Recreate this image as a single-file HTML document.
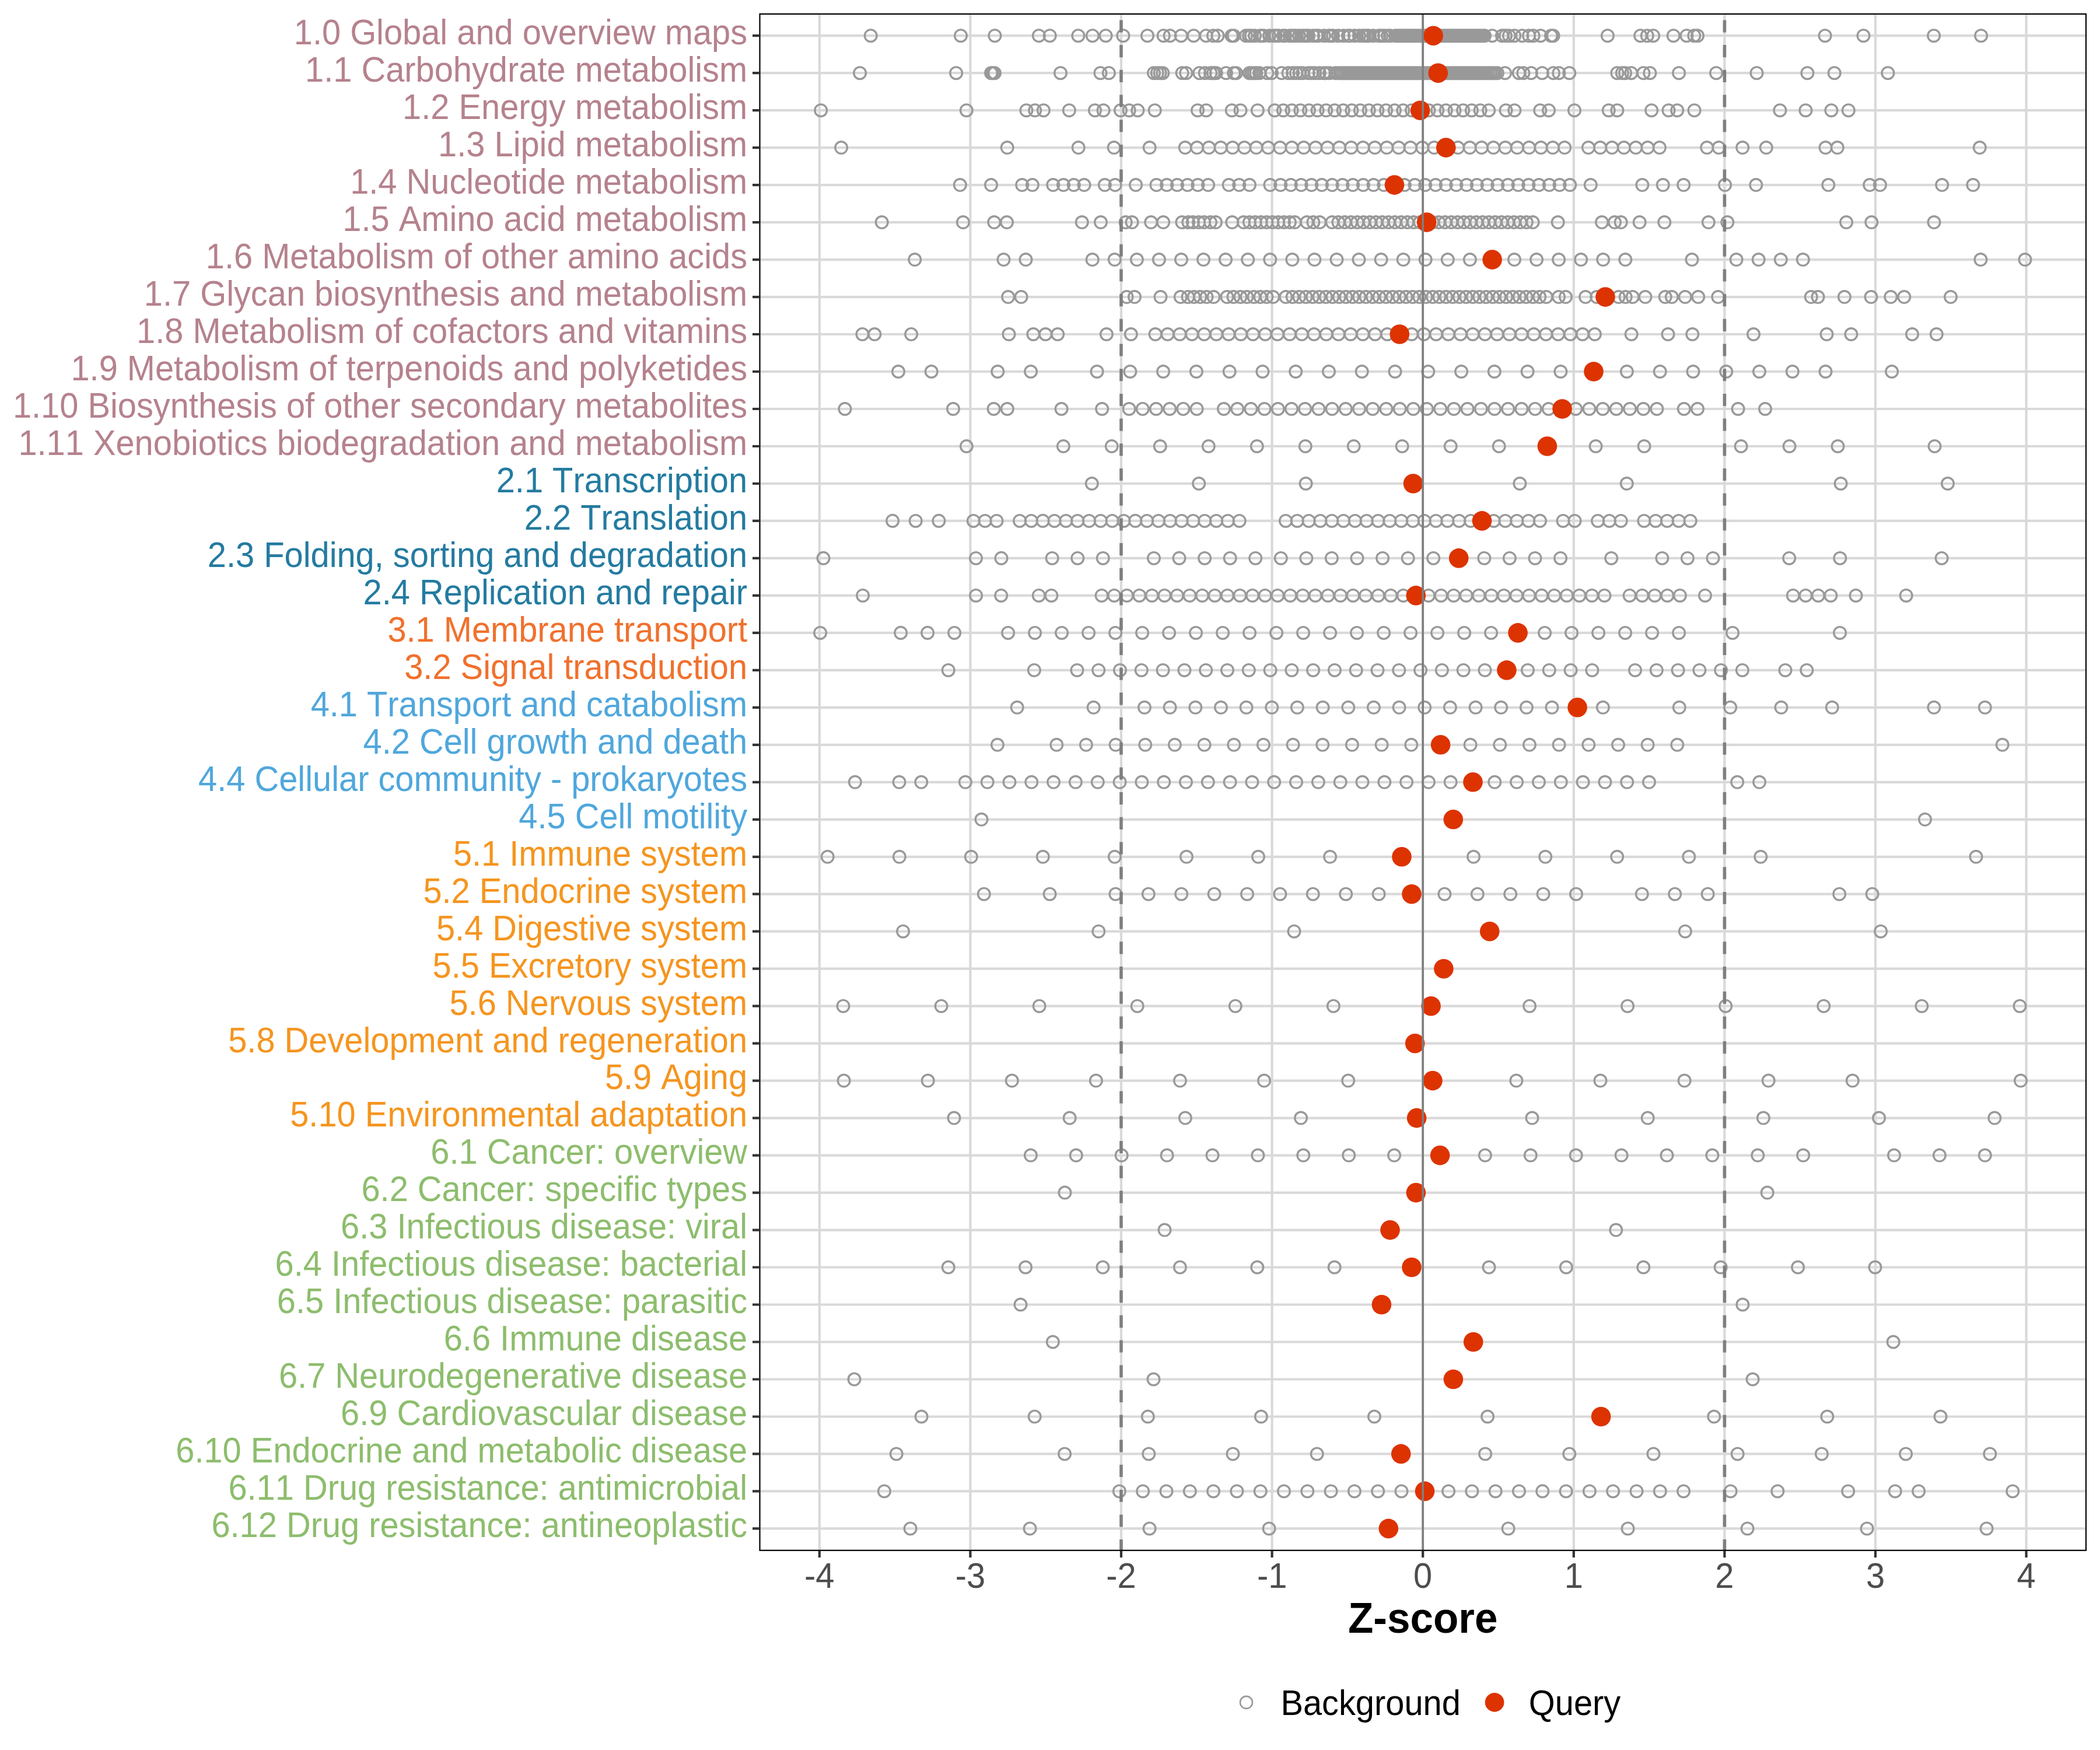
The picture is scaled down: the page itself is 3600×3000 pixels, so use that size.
<!DOCTYPE html><html><head><meta charset="utf-8"><style>html,body{margin:0;padding:0;background:#fff;overflow:hidden;width:3600px;height:3000px}svg{display:block}text{font-family:"Liberation Sans",sans-serif;font-kerning:none}</style></head><body>
<svg width="3600" height="3000" viewBox="0 0 3600 3000">
<rect width="3600" height="3000" fill="#fff"/>
<path d="M1302.5 61.2H3576M1302.5 125.2H3576M1302.5 189.2H3576M1302.5 253.1H3576M1302.5 317.1H3576M1302.5 381.1H3576M1302.5 445.1H3576M1302.5 509.1H3576M1302.5 573H3576M1302.5 637H3576M1302.5 701H3576M1302.5 765H3576M1302.5 829H3576M1302.5 892.9H3576M1302.5 956.9H3576M1302.5 1020.9H3576M1302.5 1084.9H3576M1302.5 1148.9H3576M1302.5 1212.8H3576M1302.5 1276.8H3576M1302.5 1340.8H3576M1302.5 1404.8H3576M1302.5 1468.8H3576M1302.5 1532.7H3576M1302.5 1596.7H3576M1302.5 1660.7H3576M1302.5 1724.7H3576M1302.5 1788.7H3576M1302.5 1852.6H3576M1302.5 1916.6H3576M1302.5 1980.6H3576M1302.5 2044.6H3576M1302.5 2108.6H3576M1302.5 2172.5H3576M1302.5 2236.5H3576M1302.5 2300.5H3576M1302.5 2364.5H3576M1302.5 2428.5H3576M1302.5 2492.4H3576M1302.5 2556.4H3576M1302.5 2620.4H3576M1404.8 24V2657.8M1663.4 24V2657.8M1922 24V2657.8M2180.6 24V2657.8M2439.2 24V2657.8M2697.8 24V2657.8M2956.4 24V2657.8M3215 24V2657.8M3473.6 24V2657.8" stroke="#d9d9d9" stroke-width="4.2" fill="none"/>
<path d="M1482.4 61.2a10.3 10.3 0 1 0 20.6 0a10.3 10.3 0 1 0 -20.6 0M1636.7 61.2a10.3 10.3 0 1 0 20.6 0a10.3 10.3 0 1 0 -20.6 0M1695.1 61.2a10.3 10.3 0 1 0 20.6 0a10.3 10.3 0 1 0 -20.6 0M1770.6 61.2a10.3 10.3 0 1 0 20.6 0a10.3 10.3 0 1 0 -20.6 0M1789.4 61.2a10.3 10.3 0 1 0 20.6 0a10.3 10.3 0 1 0 -20.6 0M1838.1 61.2a10.3 10.3 0 1 0 20.6 0a10.3 10.3 0 1 0 -20.6 0M1862.6 61.2a10.3 10.3 0 1 0 20.6 0a10.3 10.3 0 1 0 -20.6 0M1885.3 61.2a10.3 10.3 0 1 0 20.6 0a10.3 10.3 0 1 0 -20.6 0M1915.1 61.2a10.3 10.3 0 1 0 20.6 0a10.3 10.3 0 1 0 -20.6 0M1956.7 61.2a10.3 10.3 0 1 0 20.6 0a10.3 10.3 0 1 0 -20.6 0M1984.4 61.2a10.3 10.3 0 1 0 20.6 0a10.3 10.3 0 1 0 -20.6 0M1995.4 61.2a10.3 10.3 0 1 0 20.6 0a10.3 10.3 0 1 0 -20.6 0M2014.5 61.2a10.3 10.3 0 1 0 20.6 0a10.3 10.3 0 1 0 -20.6 0M2036 61.2a10.3 10.3 0 1 0 20.6 0a10.3 10.3 0 1 0 -20.6 0M2057.3 61.2a10.3 10.3 0 1 0 20.6 0a10.3 10.3 0 1 0 -20.6 0M2069.7 61.2a10.3 10.3 0 1 0 20.6 0a10.3 10.3 0 1 0 -20.6 0M2077.3 61.2a10.3 10.3 0 1 0 20.6 0a10.3 10.3 0 1 0 -20.6 0M2101.2 61.2a10.3 10.3 0 1 0 20.6 0a10.3 10.3 0 1 0 -20.6 0M2104.7 61.2a10.3 10.3 0 1 0 20.6 0a10.3 10.3 0 1 0 -20.6 0M2547.8 61.2a10.3 10.3 0 1 0 20.6 0a10.3 10.3 0 1 0 -20.6 0M2564.7 61.2a10.3 10.3 0 1 0 20.6 0a10.3 10.3 0 1 0 -20.6 0M2570.7 61.2a10.3 10.3 0 1 0 20.6 0a10.3 10.3 0 1 0 -20.6 0M2576.7 61.2a10.3 10.3 0 1 0 20.6 0a10.3 10.3 0 1 0 -20.6 0M2585.9 61.2a10.3 10.3 0 1 0 20.6 0a10.3 10.3 0 1 0 -20.6 0M2599.2 61.2a10.3 10.3 0 1 0 20.6 0a10.3 10.3 0 1 0 -20.6 0M2610.7 61.2a10.3 10.3 0 1 0 20.6 0a10.3 10.3 0 1 0 -20.6 0M2618.3 61.2a10.3 10.3 0 1 0 20.6 0a10.3 10.3 0 1 0 -20.6 0M2630.7 61.2a10.3 10.3 0 1 0 20.6 0a10.3 10.3 0 1 0 -20.6 0M2648.7 61.2a10.3 10.3 0 1 0 20.6 0a10.3 10.3 0 1 0 -20.6 0M2652.3 61.2a10.3 10.3 0 1 0 20.6 0a10.3 10.3 0 1 0 -20.6 0M2745.6 61.2a10.3 10.3 0 1 0 20.6 0a10.3 10.3 0 1 0 -20.6 0M2801.9 61.2a10.3 10.3 0 1 0 20.6 0a10.3 10.3 0 1 0 -20.6 0M2813.5 61.2a10.3 10.3 0 1 0 20.6 0a10.3 10.3 0 1 0 -20.6 0M2823.8 61.2a10.3 10.3 0 1 0 20.6 0a10.3 10.3 0 1 0 -20.6 0M2858.5 61.2a10.3 10.3 0 1 0 20.6 0a10.3 10.3 0 1 0 -20.6 0M2881.1 61.2a10.3 10.3 0 1 0 20.6 0a10.3 10.3 0 1 0 -20.6 0M2894 61.2a10.3 10.3 0 1 0 20.6 0a10.3 10.3 0 1 0 -20.6 0M2899.7 61.2a10.3 10.3 0 1 0 20.6 0a10.3 10.3 0 1 0 -20.6 0M3118.3 61.2a10.3 10.3 0 1 0 20.6 0a10.3 10.3 0 1 0 -20.6 0M3184.2 61.2a10.3 10.3 0 1 0 20.6 0a10.3 10.3 0 1 0 -20.6 0M3304.8 61.2a10.3 10.3 0 1 0 20.6 0a10.3 10.3 0 1 0 -20.6 0M3385.8 61.2a10.3 10.3 0 1 0 20.6 0a10.3 10.3 0 1 0 -20.6 0M2125.7 61.2a10.3 10.3 0 1 0 20.6 0a10.3 10.3 0 1 0 -20.6 0M2130.7 61.2a10.3 10.3 0 1 0 20.6 0a10.3 10.3 0 1 0 -20.6 0M2134.7 61.2a10.3 10.3 0 1 0 20.6 0a10.3 10.3 0 1 0 -20.6 0M2140.7 61.2a10.3 10.3 0 1 0 20.6 0a10.3 10.3 0 1 0 -20.6 0M2149.7 61.2a10.3 10.3 0 1 0 20.6 0a10.3 10.3 0 1 0 -20.6 0M2152.7 61.2a10.3 10.3 0 1 0 20.6 0a10.3 10.3 0 1 0 -20.6 0M2155.7 61.2a10.3 10.3 0 1 0 20.6 0a10.3 10.3 0 1 0 -20.6 0M2165.7 61.2a10.3 10.3 0 1 0 20.6 0a10.3 10.3 0 1 0 -20.6 0M2173.7 61.2a10.3 10.3 0 1 0 20.6 0a10.3 10.3 0 1 0 -20.6 0M2176.7 61.2a10.3 10.3 0 1 0 20.6 0a10.3 10.3 0 1 0 -20.6 0M2181.7 61.2a10.3 10.3 0 1 0 20.6 0a10.3 10.3 0 1 0 -20.6 0M2189.7 61.2a10.3 10.3 0 1 0 20.6 0a10.3 10.3 0 1 0 -20.6 0M2192.7 61.2a10.3 10.3 0 1 0 20.6 0a10.3 10.3 0 1 0 -20.6 0M2200.7 61.2a10.3 10.3 0 1 0 20.6 0a10.3 10.3 0 1 0 -20.6 0M2204.7 61.2a10.3 10.3 0 1 0 20.6 0a10.3 10.3 0 1 0 -20.6 0M2207.7 61.2a10.3 10.3 0 1 0 20.6 0a10.3 10.3 0 1 0 -20.6 0M2210.7 61.2a10.3 10.3 0 1 0 20.6 0a10.3 10.3 0 1 0 -20.6 0M2216.7 61.2a10.3 10.3 0 1 0 20.6 0a10.3 10.3 0 1 0 -20.6 0M2222.7 61.2a10.3 10.3 0 1 0 20.6 0a10.3 10.3 0 1 0 -20.6 0M2225.7 61.2a10.3 10.3 0 1 0 20.6 0a10.3 10.3 0 1 0 -20.6 0M2229.7 61.2a10.3 10.3 0 1 0 20.6 0a10.3 10.3 0 1 0 -20.6 0M2232.7 61.2a10.3 10.3 0 1 0 20.6 0a10.3 10.3 0 1 0 -20.6 0M2240.7 61.2a10.3 10.3 0 1 0 20.6 0a10.3 10.3 0 1 0 -20.6 0M2246.7 61.2a10.3 10.3 0 1 0 20.6 0a10.3 10.3 0 1 0 -20.6 0M2249.7 61.2a10.3 10.3 0 1 0 20.6 0a10.3 10.3 0 1 0 -20.6 0M2259.7 61.2a10.3 10.3 0 1 0 20.6 0a10.3 10.3 0 1 0 -20.6 0M2267.7 61.2a10.3 10.3 0 1 0 20.6 0a10.3 10.3 0 1 0 -20.6 0M2270.7 61.2a10.3 10.3 0 1 0 20.6 0a10.3 10.3 0 1 0 -20.6 0M2274.7 61.2a10.3 10.3 0 1 0 20.6 0a10.3 10.3 0 1 0 -20.6 0M2283.7 61.2a10.3 10.3 0 1 0 20.6 0a10.3 10.3 0 1 0 -20.6 0M2292.7 61.2a10.3 10.3 0 1 0 20.6 0a10.3 10.3 0 1 0 -20.6 0M2300.7 61.2a10.3 10.3 0 1 0 20.6 0a10.3 10.3 0 1 0 -20.6 0M2303.7 61.2a10.3 10.3 0 1 0 20.6 0a10.3 10.3 0 1 0 -20.6 0M2311.7 61.2a10.3 10.3 0 1 0 20.6 0a10.3 10.3 0 1 0 -20.6 0M2319.7 61.2a10.3 10.3 0 1 0 20.6 0a10.3 10.3 0 1 0 -20.6 0M2325.7 61.2a10.3 10.3 0 1 0 20.6 0a10.3 10.3 0 1 0 -20.6 0M2328.7 61.2a10.3 10.3 0 1 0 20.6 0a10.3 10.3 0 1 0 -20.6 0M2332.7 61.2a10.3 10.3 0 1 0 20.6 0a10.3 10.3 0 1 0 -20.6 0M2335.7 61.2a10.3 10.3 0 1 0 20.6 0a10.3 10.3 0 1 0 -20.6 0M2343.7 61.2a10.3 10.3 0 1 0 20.6 0a10.3 10.3 0 1 0 -20.6 0M2353.7 61.2a10.3 10.3 0 1 0 20.6 0a10.3 10.3 0 1 0 -20.6 0M2357.7 61.2a10.3 10.3 0 1 0 20.6 0a10.3 10.3 0 1 0 -20.6 0M2362.7 61.2a10.3 10.3 0 1 0 20.6 0a10.3 10.3 0 1 0 -20.6 0M2368.7 61.2a10.3 10.3 0 1 0 20.6 0a10.3 10.3 0 1 0 -20.6 0M2372.7 61.2a10.3 10.3 0 1 0 20.6 0a10.3 10.3 0 1 0 -20.6 0M2381.7 61.2a10.3 10.3 0 1 0 20.6 0a10.3 10.3 0 1 0 -20.6 0M2385.1 61.2a10.3 10.3 0 1 0 20.6 0a10.3 10.3 0 1 0 -20.6 0M2388.5 61.2a10.3 10.3 0 1 0 20.6 0a10.3 10.3 0 1 0 -20.6 0M2391.9 61.2a10.3 10.3 0 1 0 20.6 0a10.3 10.3 0 1 0 -20.6 0M2395.3 61.2a10.3 10.3 0 1 0 20.6 0a10.3 10.3 0 1 0 -20.6 0M2398.7 61.2a10.3 10.3 0 1 0 20.6 0a10.3 10.3 0 1 0 -20.6 0M2402.1 61.2a10.3 10.3 0 1 0 20.6 0a10.3 10.3 0 1 0 -20.6 0M2405.5 61.2a10.3 10.3 0 1 0 20.6 0a10.3 10.3 0 1 0 -20.6 0M2408.9 61.2a10.3 10.3 0 1 0 20.6 0a10.3 10.3 0 1 0 -20.6 0M2412.3 61.2a10.3 10.3 0 1 0 20.6 0a10.3 10.3 0 1 0 -20.6 0M2415.7 61.2a10.3 10.3 0 1 0 20.6 0a10.3 10.3 0 1 0 -20.6 0M2419.1 61.2a10.3 10.3 0 1 0 20.6 0a10.3 10.3 0 1 0 -20.6 0M2422.5 61.2a10.3 10.3 0 1 0 20.6 0a10.3 10.3 0 1 0 -20.6 0M2425.9 61.2a10.3 10.3 0 1 0 20.6 0a10.3 10.3 0 1 0 -20.6 0M2429.3 61.2a10.3 10.3 0 1 0 20.6 0a10.3 10.3 0 1 0 -20.6 0M2432.7 61.2a10.3 10.3 0 1 0 20.6 0a10.3 10.3 0 1 0 -20.6 0M2436.1 61.2a10.3 10.3 0 1 0 20.6 0a10.3 10.3 0 1 0 -20.6 0M2439.5 61.2a10.3 10.3 0 1 0 20.6 0a10.3 10.3 0 1 0 -20.6 0M2442.9 61.2a10.3 10.3 0 1 0 20.6 0a10.3 10.3 0 1 0 -20.6 0M2446.3 61.2a10.3 10.3 0 1 0 20.6 0a10.3 10.3 0 1 0 -20.6 0M2449.7 61.2a10.3 10.3 0 1 0 20.6 0a10.3 10.3 0 1 0 -20.6 0M2453.1 61.2a10.3 10.3 0 1 0 20.6 0a10.3 10.3 0 1 0 -20.6 0M2456.5 61.2a10.3 10.3 0 1 0 20.6 0a10.3 10.3 0 1 0 -20.6 0M2459.9 61.2a10.3 10.3 0 1 0 20.6 0a10.3 10.3 0 1 0 -20.6 0M2463.3 61.2a10.3 10.3 0 1 0 20.6 0a10.3 10.3 0 1 0 -20.6 0M2466.7 61.2a10.3 10.3 0 1 0 20.6 0a10.3 10.3 0 1 0 -20.6 0M2470.1 61.2a10.3 10.3 0 1 0 20.6 0a10.3 10.3 0 1 0 -20.6 0M2473.5 61.2a10.3 10.3 0 1 0 20.6 0a10.3 10.3 0 1 0 -20.6 0M2476.9 61.2a10.3 10.3 0 1 0 20.6 0a10.3 10.3 0 1 0 -20.6 0M2480.3 61.2a10.3 10.3 0 1 0 20.6 0a10.3 10.3 0 1 0 -20.6 0M2483.7 61.2a10.3 10.3 0 1 0 20.6 0a10.3 10.3 0 1 0 -20.6 0M2487.1 61.2a10.3 10.3 0 1 0 20.6 0a10.3 10.3 0 1 0 -20.6 0M2490.5 61.2a10.3 10.3 0 1 0 20.6 0a10.3 10.3 0 1 0 -20.6 0M2493.9 61.2a10.3 10.3 0 1 0 20.6 0a10.3 10.3 0 1 0 -20.6 0M2497.3 61.2a10.3 10.3 0 1 0 20.6 0a10.3 10.3 0 1 0 -20.6 0M2500.7 61.2a10.3 10.3 0 1 0 20.6 0a10.3 10.3 0 1 0 -20.6 0M2504.1 61.2a10.3 10.3 0 1 0 20.6 0a10.3 10.3 0 1 0 -20.6 0M2507.5 61.2a10.3 10.3 0 1 0 20.6 0a10.3 10.3 0 1 0 -20.6 0M2510.9 61.2a10.3 10.3 0 1 0 20.6 0a10.3 10.3 0 1 0 -20.6 0M2514.3 61.2a10.3 10.3 0 1 0 20.6 0a10.3 10.3 0 1 0 -20.6 0M2517.7 61.2a10.3 10.3 0 1 0 20.6 0a10.3 10.3 0 1 0 -20.6 0M2521.1 61.2a10.3 10.3 0 1 0 20.6 0a10.3 10.3 0 1 0 -20.6 0M2524.5 61.2a10.3 10.3 0 1 0 20.6 0a10.3 10.3 0 1 0 -20.6 0M2527.9 61.2a10.3 10.3 0 1 0 20.6 0a10.3 10.3 0 1 0 -20.6 0M2531.3 61.2a10.3 10.3 0 1 0 20.6 0a10.3 10.3 0 1 0 -20.6 0M2534.7 61.2a10.3 10.3 0 1 0 20.6 0a10.3 10.3 0 1 0 -20.6 0M1463.8 125.2a10.3 10.3 0 1 0 20.6 0a10.3 10.3 0 1 0 -20.6 0M1628.8 125.2a10.3 10.3 0 1 0 20.6 0a10.3 10.3 0 1 0 -20.6 0M1688.8 125.2a10.3 10.3 0 1 0 20.6 0a10.3 10.3 0 1 0 -20.6 0M1692 125.2a10.3 10.3 0 1 0 20.6 0a10.3 10.3 0 1 0 -20.6 0M1694.7 125.2a10.3 10.3 0 1 0 20.6 0a10.3 10.3 0 1 0 -20.6 0M1807.7 125.2a10.3 10.3 0 1 0 20.6 0a10.3 10.3 0 1 0 -20.6 0M1876.2 125.2a10.3 10.3 0 1 0 20.6 0a10.3 10.3 0 1 0 -20.6 0M1890.6 125.2a10.3 10.3 0 1 0 20.6 0a10.3 10.3 0 1 0 -20.6 0M1967.8 125.2a10.3 10.3 0 1 0 20.6 0a10.3 10.3 0 1 0 -20.6 0M1973.5 125.2a10.3 10.3 0 1 0 20.6 0a10.3 10.3 0 1 0 -20.6 0M1978.3 125.2a10.3 10.3 0 1 0 20.6 0a10.3 10.3 0 1 0 -20.6 0M1983 125.2a10.3 10.3 0 1 0 20.6 0a10.3 10.3 0 1 0 -20.6 0M2016.4 125.2a10.3 10.3 0 1 0 20.6 0a10.3 10.3 0 1 0 -20.6 0M2023 125.2a10.3 10.3 0 1 0 20.6 0a10.3 10.3 0 1 0 -20.6 0M2045.9 125.2a10.3 10.3 0 1 0 20.6 0a10.3 10.3 0 1 0 -20.6 0M2055.4 125.2a10.3 10.3 0 1 0 20.6 0a10.3 10.3 0 1 0 -20.6 0M2064.9 125.2a10.3 10.3 0 1 0 20.6 0a10.3 10.3 0 1 0 -20.6 0M2069.7 125.2a10.3 10.3 0 1 0 20.6 0a10.3 10.3 0 1 0 -20.6 0M2074.5 125.2a10.3 10.3 0 1 0 20.6 0a10.3 10.3 0 1 0 -20.6 0M2091.6 125.2a10.3 10.3 0 1 0 20.6 0a10.3 10.3 0 1 0 -20.6 0M2104.9 125.2a10.3 10.3 0 1 0 20.6 0a10.3 10.3 0 1 0 -20.6 0M2108.7 125.2a10.3 10.3 0 1 0 20.6 0a10.3 10.3 0 1 0 -20.6 0M2131.6 125.2a10.3 10.3 0 1 0 20.6 0a10.3 10.3 0 1 0 -20.6 0M2135.4 125.2a10.3 10.3 0 1 0 20.6 0a10.3 10.3 0 1 0 -20.6 0M2139.2 125.2a10.3 10.3 0 1 0 20.6 0a10.3 10.3 0 1 0 -20.6 0M2143 125.2a10.3 10.3 0 1 0 20.6 0a10.3 10.3 0 1 0 -20.6 0M2148.7 125.2a10.3 10.3 0 1 0 20.6 0a10.3 10.3 0 1 0 -20.6 0M2162.1 125.2a10.3 10.3 0 1 0 20.6 0a10.3 10.3 0 1 0 -20.6 0M2169.7 125.2a10.3 10.3 0 1 0 20.6 0a10.3 10.3 0 1 0 -20.6 0M2186.8 125.2a10.3 10.3 0 1 0 20.6 0a10.3 10.3 0 1 0 -20.6 0M2198.3 125.2a10.3 10.3 0 1 0 20.6 0a10.3 10.3 0 1 0 -20.6 0M2205.9 125.2a10.3 10.3 0 1 0 20.6 0a10.3 10.3 0 1 0 -20.6 0M2211.6 125.2a10.3 10.3 0 1 0 20.6 0a10.3 10.3 0 1 0 -20.6 0M2217.3 125.2a10.3 10.3 0 1 0 20.6 0a10.3 10.3 0 1 0 -20.6 0M2223 125.2a10.3 10.3 0 1 0 20.6 0a10.3 10.3 0 1 0 -20.6 0M2232.6 125.2a10.3 10.3 0 1 0 20.6 0a10.3 10.3 0 1 0 -20.6 0M2238.3 125.2a10.3 10.3 0 1 0 20.6 0a10.3 10.3 0 1 0 -20.6 0M2244 125.2a10.3 10.3 0 1 0 20.6 0a10.3 10.3 0 1 0 -20.6 0M2251.6 125.2a10.3 10.3 0 1 0 20.6 0a10.3 10.3 0 1 0 -20.6 0M2259.2 125.2a10.3 10.3 0 1 0 20.6 0a10.3 10.3 0 1 0 -20.6 0M2263 125.2a10.3 10.3 0 1 0 20.6 0a10.3 10.3 0 1 0 -20.6 0M2268.7 125.2a10.3 10.3 0 1 0 20.6 0a10.3 10.3 0 1 0 -20.6 0M2569.7 125.2a10.3 10.3 0 1 0 20.6 0a10.3 10.3 0 1 0 -20.6 0M2593.5 125.2a10.3 10.3 0 1 0 20.6 0a10.3 10.3 0 1 0 -20.6 0M2601.1 125.2a10.3 10.3 0 1 0 20.6 0a10.3 10.3 0 1 0 -20.6 0M2614.5 125.2a10.3 10.3 0 1 0 20.6 0a10.3 10.3 0 1 0 -20.6 0M2633.5 125.2a10.3 10.3 0 1 0 20.6 0a10.3 10.3 0 1 0 -20.6 0M2652.6 125.2a10.3 10.3 0 1 0 20.6 0a10.3 10.3 0 1 0 -20.6 0M2662.1 125.2a10.3 10.3 0 1 0 20.6 0a10.3 10.3 0 1 0 -20.6 0M2680 125.2a10.3 10.3 0 1 0 20.6 0a10.3 10.3 0 1 0 -20.6 0M2762.1 125.2a10.3 10.3 0 1 0 20.6 0a10.3 10.3 0 1 0 -20.6 0M2770.6 125.2a10.3 10.3 0 1 0 20.6 0a10.3 10.3 0 1 0 -20.6 0M2775.7 125.2a10.3 10.3 0 1 0 20.6 0a10.3 10.3 0 1 0 -20.6 0M2786 125.2a10.3 10.3 0 1 0 20.6 0a10.3 10.3 0 1 0 -20.6 0M2807.1 125.2a10.3 10.3 0 1 0 20.6 0a10.3 10.3 0 1 0 -20.6 0M2818.1 125.2a10.3 10.3 0 1 0 20.6 0a10.3 10.3 0 1 0 -20.6 0M2867.8 125.2a10.3 10.3 0 1 0 20.6 0a10.3 10.3 0 1 0 -20.6 0M2931.8 125.2a10.3 10.3 0 1 0 20.6 0a10.3 10.3 0 1 0 -20.6 0M3001.2 125.2a10.3 10.3 0 1 0 20.6 0a10.3 10.3 0 1 0 -20.6 0M3088.1 125.2a10.3 10.3 0 1 0 20.6 0a10.3 10.3 0 1 0 -20.6 0M3134.4 125.2a10.3 10.3 0 1 0 20.6 0a10.3 10.3 0 1 0 -20.6 0M3226.1 125.2a10.3 10.3 0 1 0 20.6 0a10.3 10.3 0 1 0 -20.6 0M2279.2 125.2a10.3 10.3 0 1 0 20.6 0a10.3 10.3 0 1 0 -20.6 0M2283 125.2a10.3 10.3 0 1 0 20.6 0a10.3 10.3 0 1 0 -20.6 0M2286.8 125.2a10.3 10.3 0 1 0 20.6 0a10.3 10.3 0 1 0 -20.6 0M2290.6 125.2a10.3 10.3 0 1 0 20.6 0a10.3 10.3 0 1 0 -20.6 0M2294.4 125.2a10.3 10.3 0 1 0 20.6 0a10.3 10.3 0 1 0 -20.6 0M2298.2 125.2a10.3 10.3 0 1 0 20.6 0a10.3 10.3 0 1 0 -20.6 0M2302 125.2a10.3 10.3 0 1 0 20.6 0a10.3 10.3 0 1 0 -20.6 0M2305.8 125.2a10.3 10.3 0 1 0 20.6 0a10.3 10.3 0 1 0 -20.6 0M2309.6 125.2a10.3 10.3 0 1 0 20.6 0a10.3 10.3 0 1 0 -20.6 0M2313.4 125.2a10.3 10.3 0 1 0 20.6 0a10.3 10.3 0 1 0 -20.6 0M2317.2 125.2a10.3 10.3 0 1 0 20.6 0a10.3 10.3 0 1 0 -20.6 0M2321 125.2a10.3 10.3 0 1 0 20.6 0a10.3 10.3 0 1 0 -20.6 0M2324.8 125.2a10.3 10.3 0 1 0 20.6 0a10.3 10.3 0 1 0 -20.6 0M2328.6 125.2a10.3 10.3 0 1 0 20.6 0a10.3 10.3 0 1 0 -20.6 0M2332.4 125.2a10.3 10.3 0 1 0 20.6 0a10.3 10.3 0 1 0 -20.6 0M2336.2 125.2a10.3 10.3 0 1 0 20.6 0a10.3 10.3 0 1 0 -20.6 0M2340 125.2a10.3 10.3 0 1 0 20.6 0a10.3 10.3 0 1 0 -20.6 0M2343.8 125.2a10.3 10.3 0 1 0 20.6 0a10.3 10.3 0 1 0 -20.6 0M2347.6 125.2a10.3 10.3 0 1 0 20.6 0a10.3 10.3 0 1 0 -20.6 0M2351.4 125.2a10.3 10.3 0 1 0 20.6 0a10.3 10.3 0 1 0 -20.6 0M2355.2 125.2a10.3 10.3 0 1 0 20.6 0a10.3 10.3 0 1 0 -20.6 0M2359 125.2a10.3 10.3 0 1 0 20.6 0a10.3 10.3 0 1 0 -20.6 0M2362.8 125.2a10.3 10.3 0 1 0 20.6 0a10.3 10.3 0 1 0 -20.6 0M2366.6 125.2a10.3 10.3 0 1 0 20.6 0a10.3 10.3 0 1 0 -20.6 0M2370.4 125.2a10.3 10.3 0 1 0 20.6 0a10.3 10.3 0 1 0 -20.6 0M2374.2 125.2a10.3 10.3 0 1 0 20.6 0a10.3 10.3 0 1 0 -20.6 0M2378 125.2a10.3 10.3 0 1 0 20.6 0a10.3 10.3 0 1 0 -20.6 0M2381.8 125.2a10.3 10.3 0 1 0 20.6 0a10.3 10.3 0 1 0 -20.6 0M2385.6 125.2a10.3 10.3 0 1 0 20.6 0a10.3 10.3 0 1 0 -20.6 0M2389.4 125.2a10.3 10.3 0 1 0 20.6 0a10.3 10.3 0 1 0 -20.6 0M2393.2 125.2a10.3 10.3 0 1 0 20.6 0a10.3 10.3 0 1 0 -20.6 0M2397 125.2a10.3 10.3 0 1 0 20.6 0a10.3 10.3 0 1 0 -20.6 0M2400.8 125.2a10.3 10.3 0 1 0 20.6 0a10.3 10.3 0 1 0 -20.6 0M2404.6 125.2a10.3 10.3 0 1 0 20.6 0a10.3 10.3 0 1 0 -20.6 0M2408.4 125.2a10.3 10.3 0 1 0 20.6 0a10.3 10.3 0 1 0 -20.6 0M2412.2 125.2a10.3 10.3 0 1 0 20.6 0a10.3 10.3 0 1 0 -20.6 0M2416 125.2a10.3 10.3 0 1 0 20.6 0a10.3 10.3 0 1 0 -20.6 0M2419.8 125.2a10.3 10.3 0 1 0 20.6 0a10.3 10.3 0 1 0 -20.6 0M2423.6 125.2a10.3 10.3 0 1 0 20.6 0a10.3 10.3 0 1 0 -20.6 0M2427.4 125.2a10.3 10.3 0 1 0 20.6 0a10.3 10.3 0 1 0 -20.6 0M2431.2 125.2a10.3 10.3 0 1 0 20.6 0a10.3 10.3 0 1 0 -20.6 0M2435 125.2a10.3 10.3 0 1 0 20.6 0a10.3 10.3 0 1 0 -20.6 0M2438.8 125.2a10.3 10.3 0 1 0 20.6 0a10.3 10.3 0 1 0 -20.6 0M2442.6 125.2a10.3 10.3 0 1 0 20.6 0a10.3 10.3 0 1 0 -20.6 0M2446.4 125.2a10.3 10.3 0 1 0 20.6 0a10.3 10.3 0 1 0 -20.6 0M2450.2 125.2a10.3 10.3 0 1 0 20.6 0a10.3 10.3 0 1 0 -20.6 0M2454 125.2a10.3 10.3 0 1 0 20.6 0a10.3 10.3 0 1 0 -20.6 0M2457.8 125.2a10.3 10.3 0 1 0 20.6 0a10.3 10.3 0 1 0 -20.6 0M2461.6 125.2a10.3 10.3 0 1 0 20.6 0a10.3 10.3 0 1 0 -20.6 0M2465.4 125.2a10.3 10.3 0 1 0 20.6 0a10.3 10.3 0 1 0 -20.6 0M2469.2 125.2a10.3 10.3 0 1 0 20.6 0a10.3 10.3 0 1 0 -20.6 0M2473 125.2a10.3 10.3 0 1 0 20.6 0a10.3 10.3 0 1 0 -20.6 0M2476.8 125.2a10.3 10.3 0 1 0 20.6 0a10.3 10.3 0 1 0 -20.6 0M2480.6 125.2a10.3 10.3 0 1 0 20.6 0a10.3 10.3 0 1 0 -20.6 0M2484.4 125.2a10.3 10.3 0 1 0 20.6 0a10.3 10.3 0 1 0 -20.6 0M2488.2 125.2a10.3 10.3 0 1 0 20.6 0a10.3 10.3 0 1 0 -20.6 0M2492 125.2a10.3 10.3 0 1 0 20.6 0a10.3 10.3 0 1 0 -20.6 0M2495.8 125.2a10.3 10.3 0 1 0 20.6 0a10.3 10.3 0 1 0 -20.6 0M2499.6 125.2a10.3 10.3 0 1 0 20.6 0a10.3 10.3 0 1 0 -20.6 0M2503.4 125.2a10.3 10.3 0 1 0 20.6 0a10.3 10.3 0 1 0 -20.6 0M2507.2 125.2a10.3 10.3 0 1 0 20.6 0a10.3 10.3 0 1 0 -20.6 0M2511 125.2a10.3 10.3 0 1 0 20.6 0a10.3 10.3 0 1 0 -20.6 0M2514.8 125.2a10.3 10.3 0 1 0 20.6 0a10.3 10.3 0 1 0 -20.6 0M2518.6 125.2a10.3 10.3 0 1 0 20.6 0a10.3 10.3 0 1 0 -20.6 0M2522.4 125.2a10.3 10.3 0 1 0 20.6 0a10.3 10.3 0 1 0 -20.6 0M2526.2 125.2a10.3 10.3 0 1 0 20.6 0a10.3 10.3 0 1 0 -20.6 0M2530 125.2a10.3 10.3 0 1 0 20.6 0a10.3 10.3 0 1 0 -20.6 0M2533.8 125.2a10.3 10.3 0 1 0 20.6 0a10.3 10.3 0 1 0 -20.6 0M2537.6 125.2a10.3 10.3 0 1 0 20.6 0a10.3 10.3 0 1 0 -20.6 0M2541.4 125.2a10.3 10.3 0 1 0 20.6 0a10.3 10.3 0 1 0 -20.6 0M2545.2 125.2a10.3 10.3 0 1 0 20.6 0a10.3 10.3 0 1 0 -20.6 0M2549 125.2a10.3 10.3 0 1 0 20.6 0a10.3 10.3 0 1 0 -20.6 0M2552.8 125.2a10.3 10.3 0 1 0 20.6 0a10.3 10.3 0 1 0 -20.6 0M2556.6 125.2a10.3 10.3 0 1 0 20.6 0a10.3 10.3 0 1 0 -20.6 0M1396.9 189.2a10.3 10.3 0 1 0 20.6 0a10.3 10.3 0 1 0 -20.6 0M1646.5 189.2a10.3 10.3 0 1 0 20.6 0a10.3 10.3 0 1 0 -20.6 0M1749.2 189.2a10.3 10.3 0 1 0 20.6 0a10.3 10.3 0 1 0 -20.6 0M1763.9 189.2a10.3 10.3 0 1 0 20.6 0a10.3 10.3 0 1 0 -20.6 0M1778.6 189.2a10.3 10.3 0 1 0 20.6 0a10.3 10.3 0 1 0 -20.6 0M1822.6 189.2a10.3 10.3 0 1 0 20.6 0a10.3 10.3 0 1 0 -20.6 0M1866.7 189.2a10.3 10.3 0 1 0 20.6 0a10.3 10.3 0 1 0 -20.6 0M1881.3 189.2a10.3 10.3 0 1 0 20.6 0a10.3 10.3 0 1 0 -20.6 0M1910.7 189.2a10.3 10.3 0 1 0 20.6 0a10.3 10.3 0 1 0 -20.6 0M1925.4 189.2a10.3 10.3 0 1 0 20.6 0a10.3 10.3 0 1 0 -20.6 0M1940.1 189.2a10.3 10.3 0 1 0 20.6 0a10.3 10.3 0 1 0 -20.6 0M1969.4 189.2a10.3 10.3 0 1 0 20.6 0a10.3 10.3 0 1 0 -20.6 0M2042.8 189.2a10.3 10.3 0 1 0 20.6 0a10.3 10.3 0 1 0 -20.6 0M2057.5 189.2a10.3 10.3 0 1 0 20.6 0a10.3 10.3 0 1 0 -20.6 0M2101.5 189.2a10.3 10.3 0 1 0 20.6 0a10.3 10.3 0 1 0 -20.6 0M2116.2 189.2a10.3 10.3 0 1 0 20.6 0a10.3 10.3 0 1 0 -20.6 0M2145.6 189.2a10.3 10.3 0 1 0 20.6 0a10.3 10.3 0 1 0 -20.6 0M2174.9 189.2a10.3 10.3 0 1 0 20.6 0a10.3 10.3 0 1 0 -20.6 0M2189.6 189.2a10.3 10.3 0 1 0 20.6 0a10.3 10.3 0 1 0 -20.6 0M2204.3 189.2a10.3 10.3 0 1 0 20.6 0a10.3 10.3 0 1 0 -20.6 0M2219 189.2a10.3 10.3 0 1 0 20.6 0a10.3 10.3 0 1 0 -20.6 0M2233.7 189.2a10.3 10.3 0 1 0 20.6 0a10.3 10.3 0 1 0 -20.6 0M2248.3 189.2a10.3 10.3 0 1 0 20.6 0a10.3 10.3 0 1 0 -20.6 0M2263 189.2a10.3 10.3 0 1 0 20.6 0a10.3 10.3 0 1 0 -20.6 0M2277.7 189.2a10.3 10.3 0 1 0 20.6 0a10.3 10.3 0 1 0 -20.6 0M2292.4 189.2a10.3 10.3 0 1 0 20.6 0a10.3 10.3 0 1 0 -20.6 0M2307.1 189.2a10.3 10.3 0 1 0 20.6 0a10.3 10.3 0 1 0 -20.6 0M2321.7 189.2a10.3 10.3 0 1 0 20.6 0a10.3 10.3 0 1 0 -20.6 0M2336.4 189.2a10.3 10.3 0 1 0 20.6 0a10.3 10.3 0 1 0 -20.6 0M2351.1 189.2a10.3 10.3 0 1 0 20.6 0a10.3 10.3 0 1 0 -20.6 0M2365.8 189.2a10.3 10.3 0 1 0 20.6 0a10.3 10.3 0 1 0 -20.6 0M2380.5 189.2a10.3 10.3 0 1 0 20.6 0a10.3 10.3 0 1 0 -20.6 0M2395.1 189.2a10.3 10.3 0 1 0 20.6 0a10.3 10.3 0 1 0 -20.6 0M2409.8 189.2a10.3 10.3 0 1 0 20.6 0a10.3 10.3 0 1 0 -20.6 0M2424.5 189.2a10.3 10.3 0 1 0 20.6 0a10.3 10.3 0 1 0 -20.6 0M2439.2 189.2a10.3 10.3 0 1 0 20.6 0a10.3 10.3 0 1 0 -20.6 0M2453.9 189.2a10.3 10.3 0 1 0 20.6 0a10.3 10.3 0 1 0 -20.6 0M2468.5 189.2a10.3 10.3 0 1 0 20.6 0a10.3 10.3 0 1 0 -20.6 0M2483.2 189.2a10.3 10.3 0 1 0 20.6 0a10.3 10.3 0 1 0 -20.6 0M2497.9 189.2a10.3 10.3 0 1 0 20.6 0a10.3 10.3 0 1 0 -20.6 0M2512.6 189.2a10.3 10.3 0 1 0 20.6 0a10.3 10.3 0 1 0 -20.6 0M2527.3 189.2a10.3 10.3 0 1 0 20.6 0a10.3 10.3 0 1 0 -20.6 0M2541.9 189.2a10.3 10.3 0 1 0 20.6 0a10.3 10.3 0 1 0 -20.6 0M2571.3 189.2a10.3 10.3 0 1 0 20.6 0a10.3 10.3 0 1 0 -20.6 0M2586 189.2a10.3 10.3 0 1 0 20.6 0a10.3 10.3 0 1 0 -20.6 0M2630 189.2a10.3 10.3 0 1 0 20.6 0a10.3 10.3 0 1 0 -20.6 0M2644.7 189.2a10.3 10.3 0 1 0 20.6 0a10.3 10.3 0 1 0 -20.6 0M2688.7 189.2a10.3 10.3 0 1 0 20.6 0a10.3 10.3 0 1 0 -20.6 0M2747.5 189.2a10.3 10.3 0 1 0 20.6 0a10.3 10.3 0 1 0 -20.6 0M2762.1 189.2a10.3 10.3 0 1 0 20.6 0a10.3 10.3 0 1 0 -20.6 0M2820.9 189.2a10.3 10.3 0 1 0 20.6 0a10.3 10.3 0 1 0 -20.6 0M2850.2 189.2a10.3 10.3 0 1 0 20.6 0a10.3 10.3 0 1 0 -20.6 0M2864.9 189.2a10.3 10.3 0 1 0 20.6 0a10.3 10.3 0 1 0 -20.6 0M2894.3 189.2a10.3 10.3 0 1 0 20.6 0a10.3 10.3 0 1 0 -20.6 0M3041.1 189.2a10.3 10.3 0 1 0 20.6 0a10.3 10.3 0 1 0 -20.6 0M3085.1 189.2a10.3 10.3 0 1 0 20.6 0a10.3 10.3 0 1 0 -20.6 0M3129.1 189.2a10.3 10.3 0 1 0 20.6 0a10.3 10.3 0 1 0 -20.6 0M3158.5 189.2a10.3 10.3 0 1 0 20.6 0a10.3 10.3 0 1 0 -20.6 0M1431.8 253.1a10.3 10.3 0 1 0 20.6 0a10.3 10.3 0 1 0 -20.6 0M1716.4 253.1a10.3 10.3 0 1 0 20.6 0a10.3 10.3 0 1 0 -20.6 0M1838.4 253.1a10.3 10.3 0 1 0 20.6 0a10.3 10.3 0 1 0 -20.6 0M1899.4 253.1a10.3 10.3 0 1 0 20.6 0a10.3 10.3 0 1 0 -20.6 0M1960.4 253.1a10.3 10.3 0 1 0 20.6 0a10.3 10.3 0 1 0 -20.6 0M2021.4 253.1a10.3 10.3 0 1 0 20.6 0a10.3 10.3 0 1 0 -20.6 0M2041.7 253.1a10.3 10.3 0 1 0 20.6 0a10.3 10.3 0 1 0 -20.6 0M2062 253.1a10.3 10.3 0 1 0 20.6 0a10.3 10.3 0 1 0 -20.6 0M2082.4 253.1a10.3 10.3 0 1 0 20.6 0a10.3 10.3 0 1 0 -20.6 0M2102.7 253.1a10.3 10.3 0 1 0 20.6 0a10.3 10.3 0 1 0 -20.6 0M2123 253.1a10.3 10.3 0 1 0 20.6 0a10.3 10.3 0 1 0 -20.6 0M2143.3 253.1a10.3 10.3 0 1 0 20.6 0a10.3 10.3 0 1 0 -20.6 0M2163.7 253.1a10.3 10.3 0 1 0 20.6 0a10.3 10.3 0 1 0 -20.6 0M2184 253.1a10.3 10.3 0 1 0 20.6 0a10.3 10.3 0 1 0 -20.6 0M2204.3 253.1a10.3 10.3 0 1 0 20.6 0a10.3 10.3 0 1 0 -20.6 0M2224.7 253.1a10.3 10.3 0 1 0 20.6 0a10.3 10.3 0 1 0 -20.6 0M2245 253.1a10.3 10.3 0 1 0 20.6 0a10.3 10.3 0 1 0 -20.6 0M2265.3 253.1a10.3 10.3 0 1 0 20.6 0a10.3 10.3 0 1 0 -20.6 0M2285.7 253.1a10.3 10.3 0 1 0 20.6 0a10.3 10.3 0 1 0 -20.6 0M2306 253.1a10.3 10.3 0 1 0 20.6 0a10.3 10.3 0 1 0 -20.6 0M2326.3 253.1a10.3 10.3 0 1 0 20.6 0a10.3 10.3 0 1 0 -20.6 0M2346.6 253.1a10.3 10.3 0 1 0 20.6 0a10.3 10.3 0 1 0 -20.6 0M2367 253.1a10.3 10.3 0 1 0 20.6 0a10.3 10.3 0 1 0 -20.6 0M2387.3 253.1a10.3 10.3 0 1 0 20.6 0a10.3 10.3 0 1 0 -20.6 0M2407.6 253.1a10.3 10.3 0 1 0 20.6 0a10.3 10.3 0 1 0 -20.6 0M2428 253.1a10.3 10.3 0 1 0 20.6 0a10.3 10.3 0 1 0 -20.6 0M2448.3 253.1a10.3 10.3 0 1 0 20.6 0a10.3 10.3 0 1 0 -20.6 0M2468.6 253.1a10.3 10.3 0 1 0 20.6 0a10.3 10.3 0 1 0 -20.6 0M2489 253.1a10.3 10.3 0 1 0 20.6 0a10.3 10.3 0 1 0 -20.6 0M2509.3 253.1a10.3 10.3 0 1 0 20.6 0a10.3 10.3 0 1 0 -20.6 0M2529.6 253.1a10.3 10.3 0 1 0 20.6 0a10.3 10.3 0 1 0 -20.6 0M2549.9 253.1a10.3 10.3 0 1 0 20.6 0a10.3 10.3 0 1 0 -20.6 0M2570.3 253.1a10.3 10.3 0 1 0 20.6 0a10.3 10.3 0 1 0 -20.6 0M2590.6 253.1a10.3 10.3 0 1 0 20.6 0a10.3 10.3 0 1 0 -20.6 0M2610.9 253.1a10.3 10.3 0 1 0 20.6 0a10.3 10.3 0 1 0 -20.6 0M2631.3 253.1a10.3 10.3 0 1 0 20.6 0a10.3 10.3 0 1 0 -20.6 0M2651.6 253.1a10.3 10.3 0 1 0 20.6 0a10.3 10.3 0 1 0 -20.6 0M2671.9 253.1a10.3 10.3 0 1 0 20.6 0a10.3 10.3 0 1 0 -20.6 0M2712.6 253.1a10.3 10.3 0 1 0 20.6 0a10.3 10.3 0 1 0 -20.6 0M2732.9 253.1a10.3 10.3 0 1 0 20.6 0a10.3 10.3 0 1 0 -20.6 0M2753.2 253.1a10.3 10.3 0 1 0 20.6 0a10.3 10.3 0 1 0 -20.6 0M2773.6 253.1a10.3 10.3 0 1 0 20.6 0a10.3 10.3 0 1 0 -20.6 0M2793.9 253.1a10.3 10.3 0 1 0 20.6 0a10.3 10.3 0 1 0 -20.6 0M2814.2 253.1a10.3 10.3 0 1 0 20.6 0a10.3 10.3 0 1 0 -20.6 0M2834.6 253.1a10.3 10.3 0 1 0 20.6 0a10.3 10.3 0 1 0 -20.6 0M2915.9 253.1a10.3 10.3 0 1 0 20.6 0a10.3 10.3 0 1 0 -20.6 0M2936.2 253.1a10.3 10.3 0 1 0 20.6 0a10.3 10.3 0 1 0 -20.6 0M2976.9 253.1a10.3 10.3 0 1 0 20.6 0a10.3 10.3 0 1 0 -20.6 0M3017.5 253.1a10.3 10.3 0 1 0 20.6 0a10.3 10.3 0 1 0 -20.6 0M3119.2 253.1a10.3 10.3 0 1 0 20.6 0a10.3 10.3 0 1 0 -20.6 0M3139.5 253.1a10.3 10.3 0 1 0 20.6 0a10.3 10.3 0 1 0 -20.6 0M3383.5 253.1a10.3 10.3 0 1 0 20.6 0a10.3 10.3 0 1 0 -20.6 0M1635.5 317.1a10.3 10.3 0 1 0 20.6 0a10.3 10.3 0 1 0 -20.6 0M1688.7 317.1a10.3 10.3 0 1 0 20.6 0a10.3 10.3 0 1 0 -20.6 0M1741.9 317.1a10.3 10.3 0 1 0 20.6 0a10.3 10.3 0 1 0 -20.6 0M1759.6 317.1a10.3 10.3 0 1 0 20.6 0a10.3 10.3 0 1 0 -20.6 0M1795 317.1a10.3 10.3 0 1 0 20.6 0a10.3 10.3 0 1 0 -20.6 0M1812.7 317.1a10.3 10.3 0 1 0 20.6 0a10.3 10.3 0 1 0 -20.6 0M1830.5 317.1a10.3 10.3 0 1 0 20.6 0a10.3 10.3 0 1 0 -20.6 0M1848.2 317.1a10.3 10.3 0 1 0 20.6 0a10.3 10.3 0 1 0 -20.6 0M1883.6 317.1a10.3 10.3 0 1 0 20.6 0a10.3 10.3 0 1 0 -20.6 0M1901.3 317.1a10.3 10.3 0 1 0 20.6 0a10.3 10.3 0 1 0 -20.6 0M1936.8 317.1a10.3 10.3 0 1 0 20.6 0a10.3 10.3 0 1 0 -20.6 0M1972.2 317.1a10.3 10.3 0 1 0 20.6 0a10.3 10.3 0 1 0 -20.6 0M1989.9 317.1a10.3 10.3 0 1 0 20.6 0a10.3 10.3 0 1 0 -20.6 0M2007.7 317.1a10.3 10.3 0 1 0 20.6 0a10.3 10.3 0 1 0 -20.6 0M2025.4 317.1a10.3 10.3 0 1 0 20.6 0a10.3 10.3 0 1 0 -20.6 0M2043.1 317.1a10.3 10.3 0 1 0 20.6 0a10.3 10.3 0 1 0 -20.6 0M2060.8 317.1a10.3 10.3 0 1 0 20.6 0a10.3 10.3 0 1 0 -20.6 0M2096.3 317.1a10.3 10.3 0 1 0 20.6 0a10.3 10.3 0 1 0 -20.6 0M2114 317.1a10.3 10.3 0 1 0 20.6 0a10.3 10.3 0 1 0 -20.6 0M2131.7 317.1a10.3 10.3 0 1 0 20.6 0a10.3 10.3 0 1 0 -20.6 0M2167.1 317.1a10.3 10.3 0 1 0 20.6 0a10.3 10.3 0 1 0 -20.6 0M2184.9 317.1a10.3 10.3 0 1 0 20.6 0a10.3 10.3 0 1 0 -20.6 0M2202.6 317.1a10.3 10.3 0 1 0 20.6 0a10.3 10.3 0 1 0 -20.6 0M2220.3 317.1a10.3 10.3 0 1 0 20.6 0a10.3 10.3 0 1 0 -20.6 0M2238 317.1a10.3 10.3 0 1 0 20.6 0a10.3 10.3 0 1 0 -20.6 0M2255.7 317.1a10.3 10.3 0 1 0 20.6 0a10.3 10.3 0 1 0 -20.6 0M2273.5 317.1a10.3 10.3 0 1 0 20.6 0a10.3 10.3 0 1 0 -20.6 0M2291.2 317.1a10.3 10.3 0 1 0 20.6 0a10.3 10.3 0 1 0 -20.6 0M2308.9 317.1a10.3 10.3 0 1 0 20.6 0a10.3 10.3 0 1 0 -20.6 0M2326.6 317.1a10.3 10.3 0 1 0 20.6 0a10.3 10.3 0 1 0 -20.6 0M2344.3 317.1a10.3 10.3 0 1 0 20.6 0a10.3 10.3 0 1 0 -20.6 0M2362.1 317.1a10.3 10.3 0 1 0 20.6 0a10.3 10.3 0 1 0 -20.6 0M2379.8 317.1a10.3 10.3 0 1 0 20.6 0a10.3 10.3 0 1 0 -20.6 0M2397.5 317.1a10.3 10.3 0 1 0 20.6 0a10.3 10.3 0 1 0 -20.6 0M2415.2 317.1a10.3 10.3 0 1 0 20.6 0a10.3 10.3 0 1 0 -20.6 0M2432.9 317.1a10.3 10.3 0 1 0 20.6 0a10.3 10.3 0 1 0 -20.6 0M2450.7 317.1a10.3 10.3 0 1 0 20.6 0a10.3 10.3 0 1 0 -20.6 0M2468.4 317.1a10.3 10.3 0 1 0 20.6 0a10.3 10.3 0 1 0 -20.6 0M2486.1 317.1a10.3 10.3 0 1 0 20.6 0a10.3 10.3 0 1 0 -20.6 0M2503.8 317.1a10.3 10.3 0 1 0 20.6 0a10.3 10.3 0 1 0 -20.6 0M2521.5 317.1a10.3 10.3 0 1 0 20.6 0a10.3 10.3 0 1 0 -20.6 0M2539.3 317.1a10.3 10.3 0 1 0 20.6 0a10.3 10.3 0 1 0 -20.6 0M2557 317.1a10.3 10.3 0 1 0 20.6 0a10.3 10.3 0 1 0 -20.6 0M2574.7 317.1a10.3 10.3 0 1 0 20.6 0a10.3 10.3 0 1 0 -20.6 0M2592.4 317.1a10.3 10.3 0 1 0 20.6 0a10.3 10.3 0 1 0 -20.6 0M2610.1 317.1a10.3 10.3 0 1 0 20.6 0a10.3 10.3 0 1 0 -20.6 0M2627.9 317.1a10.3 10.3 0 1 0 20.6 0a10.3 10.3 0 1 0 -20.6 0M2645.6 317.1a10.3 10.3 0 1 0 20.6 0a10.3 10.3 0 1 0 -20.6 0M2663.3 317.1a10.3 10.3 0 1 0 20.6 0a10.3 10.3 0 1 0 -20.6 0M2681 317.1a10.3 10.3 0 1 0 20.6 0a10.3 10.3 0 1 0 -20.6 0M2716.5 317.1a10.3 10.3 0 1 0 20.6 0a10.3 10.3 0 1 0 -20.6 0M2805.1 317.1a10.3 10.3 0 1 0 20.6 0a10.3 10.3 0 1 0 -20.6 0M2840.5 317.1a10.3 10.3 0 1 0 20.6 0a10.3 10.3 0 1 0 -20.6 0M2875.9 317.1a10.3 10.3 0 1 0 20.6 0a10.3 10.3 0 1 0 -20.6 0M2946.8 317.1a10.3 10.3 0 1 0 20.6 0a10.3 10.3 0 1 0 -20.6 0M3000 317.1a10.3 10.3 0 1 0 20.6 0a10.3 10.3 0 1 0 -20.6 0M3124 317.1a10.3 10.3 0 1 0 20.6 0a10.3 10.3 0 1 0 -20.6 0M3194.9 317.1a10.3 10.3 0 1 0 20.6 0a10.3 10.3 0 1 0 -20.6 0M3212.6 317.1a10.3 10.3 0 1 0 20.6 0a10.3 10.3 0 1 0 -20.6 0M3318.9 317.1a10.3 10.3 0 1 0 20.6 0a10.3 10.3 0 1 0 -20.6 0M3372.1 317.1a10.3 10.3 0 1 0 20.6 0a10.3 10.3 0 1 0 -20.6 0M1501.4 381.1a10.3 10.3 0 1 0 20.6 0a10.3 10.3 0 1 0 -20.6 0M1640.7 381.1a10.3 10.3 0 1 0 20.6 0a10.3 10.3 0 1 0 -20.6 0M1694 381.1a10.3 10.3 0 1 0 20.6 0a10.3 10.3 0 1 0 -20.6 0M1715.7 381.1a10.3 10.3 0 1 0 20.6 0a10.3 10.3 0 1 0 -20.6 0M1844.5 381.1a10.3 10.3 0 1 0 20.6 0a10.3 10.3 0 1 0 -20.6 0M1876.7 381.1a10.3 10.3 0 1 0 20.6 0a10.3 10.3 0 1 0 -20.6 0M1919.4 381.1a10.3 10.3 0 1 0 20.6 0a10.3 10.3 0 1 0 -20.6 0M1930.3 381.1a10.3 10.3 0 1 0 20.6 0a10.3 10.3 0 1 0 -20.6 0M1962.9 381.1a10.3 10.3 0 1 0 20.6 0a10.3 10.3 0 1 0 -20.6 0M1983.9 381.1a10.3 10.3 0 1 0 20.6 0a10.3 10.3 0 1 0 -20.6 0M2016.1 381.1a10.3 10.3 0 1 0 20.6 0a10.3 10.3 0 1 0 -20.6 0M2027 381.1a10.3 10.3 0 1 0 20.6 0a10.3 10.3 0 1 0 -20.6 0M2034.7 381.1a10.3 10.3 0 1 0 20.6 0a10.3 10.3 0 1 0 -20.6 0M2044.7 381.1a10.3 10.3 0 1 0 20.6 0a10.3 10.3 0 1 0 -20.6 0M2053.8 381.1a10.3 10.3 0 1 0 20.6 0a10.3 10.3 0 1 0 -20.6 0M2064.7 381.1a10.3 10.3 0 1 0 20.6 0a10.3 10.3 0 1 0 -20.6 0M2073.7 381.1a10.3 10.3 0 1 0 20.6 0a10.3 10.3 0 1 0 -20.6 0M2102 381.1a10.3 10.3 0 1 0 20.6 0a10.3 10.3 0 1 0 -20.6 0M2121.7 381.1a10.3 10.3 0 1 0 20.6 0a10.3 10.3 0 1 0 -20.6 0M2131.6 381.1a10.3 10.3 0 1 0 20.6 0a10.3 10.3 0 1 0 -20.6 0M2141.4 381.1a10.3 10.3 0 1 0 20.6 0a10.3 10.3 0 1 0 -20.6 0M2151.3 381.1a10.3 10.3 0 1 0 20.6 0a10.3 10.3 0 1 0 -20.6 0M2161.1 381.1a10.3 10.3 0 1 0 20.6 0a10.3 10.3 0 1 0 -20.6 0M2171 381.1a10.3 10.3 0 1 0 20.6 0a10.3 10.3 0 1 0 -20.6 0M2180.9 381.1a10.3 10.3 0 1 0 20.6 0a10.3 10.3 0 1 0 -20.6 0M2190.7 381.1a10.3 10.3 0 1 0 20.6 0a10.3 10.3 0 1 0 -20.6 0M2200.6 381.1a10.3 10.3 0 1 0 20.6 0a10.3 10.3 0 1 0 -20.6 0M2209.3 381.1a10.3 10.3 0 1 0 20.6 0a10.3 10.3 0 1 0 -20.6 0M2230.1 381.1a10.3 10.3 0 1 0 20.6 0a10.3 10.3 0 1 0 -20.6 0M2241.1 381.1a10.3 10.3 0 1 0 20.6 0a10.3 10.3 0 1 0 -20.6 0M2252 381.1a10.3 10.3 0 1 0 20.6 0a10.3 10.3 0 1 0 -20.6 0M2273.4 381.1a10.3 10.3 0 1 0 20.6 0a10.3 10.3 0 1 0 -20.6 0M2284.1 381.1a10.3 10.3 0 1 0 20.6 0a10.3 10.3 0 1 0 -20.6 0M2294.9 381.1a10.3 10.3 0 1 0 20.6 0a10.3 10.3 0 1 0 -20.6 0M2305.6 381.1a10.3 10.3 0 1 0 20.6 0a10.3 10.3 0 1 0 -20.6 0M2316.4 381.1a10.3 10.3 0 1 0 20.6 0a10.3 10.3 0 1 0 -20.6 0M2327.1 381.1a10.3 10.3 0 1 0 20.6 0a10.3 10.3 0 1 0 -20.6 0M2337.9 381.1a10.3 10.3 0 1 0 20.6 0a10.3 10.3 0 1 0 -20.6 0M2348.6 381.1a10.3 10.3 0 1 0 20.6 0a10.3 10.3 0 1 0 -20.6 0M2359.4 381.1a10.3 10.3 0 1 0 20.6 0a10.3 10.3 0 1 0 -20.6 0M2370.1 381.1a10.3 10.3 0 1 0 20.6 0a10.3 10.3 0 1 0 -20.6 0M2380.9 381.1a10.3 10.3 0 1 0 20.6 0a10.3 10.3 0 1 0 -20.6 0M2391.6 381.1a10.3 10.3 0 1 0 20.6 0a10.3 10.3 0 1 0 -20.6 0M2402.4 381.1a10.3 10.3 0 1 0 20.6 0a10.3 10.3 0 1 0 -20.6 0M2413.1 381.1a10.3 10.3 0 1 0 20.6 0a10.3 10.3 0 1 0 -20.6 0M2423.9 381.1a10.3 10.3 0 1 0 20.6 0a10.3 10.3 0 1 0 -20.6 0M2434.6 381.1a10.3 10.3 0 1 0 20.6 0a10.3 10.3 0 1 0 -20.6 0M2445.4 381.1a10.3 10.3 0 1 0 20.6 0a10.3 10.3 0 1 0 -20.6 0M2456.1 381.1a10.3 10.3 0 1 0 20.6 0a10.3 10.3 0 1 0 -20.6 0M2466.9 381.1a10.3 10.3 0 1 0 20.6 0a10.3 10.3 0 1 0 -20.6 0M2477.6 381.1a10.3 10.3 0 1 0 20.6 0a10.3 10.3 0 1 0 -20.6 0M2488.4 381.1a10.3 10.3 0 1 0 20.6 0a10.3 10.3 0 1 0 -20.6 0M2499.1 381.1a10.3 10.3 0 1 0 20.6 0a10.3 10.3 0 1 0 -20.6 0M2509.9 381.1a10.3 10.3 0 1 0 20.6 0a10.3 10.3 0 1 0 -20.6 0M2520.6 381.1a10.3 10.3 0 1 0 20.6 0a10.3 10.3 0 1 0 -20.6 0M2531.4 381.1a10.3 10.3 0 1 0 20.6 0a10.3 10.3 0 1 0 -20.6 0M2542.1 381.1a10.3 10.3 0 1 0 20.6 0a10.3 10.3 0 1 0 -20.6 0M2552.9 381.1a10.3 10.3 0 1 0 20.6 0a10.3 10.3 0 1 0 -20.6 0M2563.6 381.1a10.3 10.3 0 1 0 20.6 0a10.3 10.3 0 1 0 -20.6 0M2574.4 381.1a10.3 10.3 0 1 0 20.6 0a10.3 10.3 0 1 0 -20.6 0M2585.1 381.1a10.3 10.3 0 1 0 20.6 0a10.3 10.3 0 1 0 -20.6 0M2595.9 381.1a10.3 10.3 0 1 0 20.6 0a10.3 10.3 0 1 0 -20.6 0M2606.6 381.1a10.3 10.3 0 1 0 20.6 0a10.3 10.3 0 1 0 -20.6 0M2617.4 381.1a10.3 10.3 0 1 0 20.6 0a10.3 10.3 0 1 0 -20.6 0M2660.4 381.1a10.3 10.3 0 1 0 20.6 0a10.3 10.3 0 1 0 -20.6 0M2735.8 381.1a10.3 10.3 0 1 0 20.6 0a10.3 10.3 0 1 0 -20.6 0M2757.7 381.1a10.3 10.3 0 1 0 20.6 0a10.3 10.3 0 1 0 -20.6 0M2768.4 381.1a10.3 10.3 0 1 0 20.6 0a10.3 10.3 0 1 0 -20.6 0M2800.4 381.1a10.3 10.3 0 1 0 20.6 0a10.3 10.3 0 1 0 -20.6 0M2843 381.1a10.3 10.3 0 1 0 20.6 0a10.3 10.3 0 1 0 -20.6 0M2918.5 381.1a10.3 10.3 0 1 0 20.6 0a10.3 10.3 0 1 0 -20.6 0M2951 381.1a10.3 10.3 0 1 0 20.6 0a10.3 10.3 0 1 0 -20.6 0M3154.8 381.1a10.3 10.3 0 1 0 20.6 0a10.3 10.3 0 1 0 -20.6 0M3198 381.1a10.3 10.3 0 1 0 20.6 0a10.3 10.3 0 1 0 -20.6 0M3305.2 381.1a10.3 10.3 0 1 0 20.6 0a10.3 10.3 0 1 0 -20.6 0M1557.9 445.1a10.3 10.3 0 1 0 20.6 0a10.3 10.3 0 1 0 -20.6 0M1710.2 445.1a10.3 10.3 0 1 0 20.6 0a10.3 10.3 0 1 0 -20.6 0M1748.2 445.1a10.3 10.3 0 1 0 20.6 0a10.3 10.3 0 1 0 -20.6 0M1862.4 445.1a10.3 10.3 0 1 0 20.6 0a10.3 10.3 0 1 0 -20.6 0M1900.5 445.1a10.3 10.3 0 1 0 20.6 0a10.3 10.3 0 1 0 -20.6 0M1938.6 445.1a10.3 10.3 0 1 0 20.6 0a10.3 10.3 0 1 0 -20.6 0M1976.6 445.1a10.3 10.3 0 1 0 20.6 0a10.3 10.3 0 1 0 -20.6 0M2014.7 445.1a10.3 10.3 0 1 0 20.6 0a10.3 10.3 0 1 0 -20.6 0M2052.8 445.1a10.3 10.3 0 1 0 20.6 0a10.3 10.3 0 1 0 -20.6 0M2090.8 445.1a10.3 10.3 0 1 0 20.6 0a10.3 10.3 0 1 0 -20.6 0M2128.9 445.1a10.3 10.3 0 1 0 20.6 0a10.3 10.3 0 1 0 -20.6 0M2167 445.1a10.3 10.3 0 1 0 20.6 0a10.3 10.3 0 1 0 -20.6 0M2205 445.1a10.3 10.3 0 1 0 20.6 0a10.3 10.3 0 1 0 -20.6 0M2243.1 445.1a10.3 10.3 0 1 0 20.6 0a10.3 10.3 0 1 0 -20.6 0M2281.2 445.1a10.3 10.3 0 1 0 20.6 0a10.3 10.3 0 1 0 -20.6 0M2319.2 445.1a10.3 10.3 0 1 0 20.6 0a10.3 10.3 0 1 0 -20.6 0M2357.3 445.1a10.3 10.3 0 1 0 20.6 0a10.3 10.3 0 1 0 -20.6 0M2395.4 445.1a10.3 10.3 0 1 0 20.6 0a10.3 10.3 0 1 0 -20.6 0M2433.4 445.1a10.3 10.3 0 1 0 20.6 0a10.3 10.3 0 1 0 -20.6 0M2471.5 445.1a10.3 10.3 0 1 0 20.6 0a10.3 10.3 0 1 0 -20.6 0M2509.6 445.1a10.3 10.3 0 1 0 20.6 0a10.3 10.3 0 1 0 -20.6 0M2585.7 445.1a10.3 10.3 0 1 0 20.6 0a10.3 10.3 0 1 0 -20.6 0M2623.8 445.1a10.3 10.3 0 1 0 20.6 0a10.3 10.3 0 1 0 -20.6 0M2661.8 445.1a10.3 10.3 0 1 0 20.6 0a10.3 10.3 0 1 0 -20.6 0M2699.9 445.1a10.3 10.3 0 1 0 20.6 0a10.3 10.3 0 1 0 -20.6 0M2737.9 445.1a10.3 10.3 0 1 0 20.6 0a10.3 10.3 0 1 0 -20.6 0M2776 445.1a10.3 10.3 0 1 0 20.6 0a10.3 10.3 0 1 0 -20.6 0M2890.2 445.1a10.3 10.3 0 1 0 20.6 0a10.3 10.3 0 1 0 -20.6 0M2966.3 445.1a10.3 10.3 0 1 0 20.6 0a10.3 10.3 0 1 0 -20.6 0M3004.4 445.1a10.3 10.3 0 1 0 20.6 0a10.3 10.3 0 1 0 -20.6 0M3042.5 445.1a10.3 10.3 0 1 0 20.6 0a10.3 10.3 0 1 0 -20.6 0M3080.5 445.1a10.3 10.3 0 1 0 20.6 0a10.3 10.3 0 1 0 -20.6 0M3385.1 445.1a10.3 10.3 0 1 0 20.6 0a10.3 10.3 0 1 0 -20.6 0M3461.2 445.1a10.3 10.3 0 1 0 20.6 0a10.3 10.3 0 1 0 -20.6 0M1717.9 509.1a10.3 10.3 0 1 0 20.6 0a10.3 10.3 0 1 0 -20.6 0M1740.3 509.1a10.3 10.3 0 1 0 20.6 0a10.3 10.3 0 1 0 -20.6 0M1921.3 509.1a10.3 10.3 0 1 0 20.6 0a10.3 10.3 0 1 0 -20.6 0M1934.7 509.1a10.3 10.3 0 1 0 20.6 0a10.3 10.3 0 1 0 -20.6 0M1979.2 509.1a10.3 10.3 0 1 0 20.6 0a10.3 10.3 0 1 0 -20.6 0M2013.5 509.1a10.3 10.3 0 1 0 20.6 0a10.3 10.3 0 1 0 -20.6 0M2026.2 509.1a10.3 10.3 0 1 0 20.6 0a10.3 10.3 0 1 0 -20.6 0M2036.3 509.1a10.3 10.3 0 1 0 20.6 0a10.3 10.3 0 1 0 -20.6 0M2047.2 509.1a10.3 10.3 0 1 0 20.6 0a10.3 10.3 0 1 0 -20.6 0M2058.2 509.1a10.3 10.3 0 1 0 20.6 0a10.3 10.3 0 1 0 -20.6 0M2070.2 509.1a10.3 10.3 0 1 0 20.6 0a10.3 10.3 0 1 0 -20.6 0M2093.2 509.1a10.3 10.3 0 1 0 20.6 0a10.3 10.3 0 1 0 -20.6 0M2104.2 509.1a10.3 10.3 0 1 0 20.6 0a10.3 10.3 0 1 0 -20.6 0M2116.2 509.1a10.3 10.3 0 1 0 20.6 0a10.3 10.3 0 1 0 -20.6 0M2127.2 509.1a10.3 10.3 0 1 0 20.6 0a10.3 10.3 0 1 0 -20.6 0M2139.2 509.1a10.3 10.3 0 1 0 20.6 0a10.3 10.3 0 1 0 -20.6 0M2150.2 509.1a10.3 10.3 0 1 0 20.6 0a10.3 10.3 0 1 0 -20.6 0M2161.1 509.1a10.3 10.3 0 1 0 20.6 0a10.3 10.3 0 1 0 -20.6 0M2172.1 509.1a10.3 10.3 0 1 0 20.6 0a10.3 10.3 0 1 0 -20.6 0M2194 509.1a10.3 10.3 0 1 0 20.6 0a10.3 10.3 0 1 0 -20.6 0M2205.4 509.1a10.3 10.3 0 1 0 20.6 0a10.3 10.3 0 1 0 -20.6 0M2216.9 509.1a10.3 10.3 0 1 0 20.6 0a10.3 10.3 0 1 0 -20.6 0M2228.3 509.1a10.3 10.3 0 1 0 20.6 0a10.3 10.3 0 1 0 -20.6 0M2239.8 509.1a10.3 10.3 0 1 0 20.6 0a10.3 10.3 0 1 0 -20.6 0M2251.2 509.1a10.3 10.3 0 1 0 20.6 0a10.3 10.3 0 1 0 -20.6 0M2262.7 509.1a10.3 10.3 0 1 0 20.6 0a10.3 10.3 0 1 0 -20.6 0M2274.1 509.1a10.3 10.3 0 1 0 20.6 0a10.3 10.3 0 1 0 -20.6 0M2285.6 509.1a10.3 10.3 0 1 0 20.6 0a10.3 10.3 0 1 0 -20.6 0M2297 509.1a10.3 10.3 0 1 0 20.6 0a10.3 10.3 0 1 0 -20.6 0M2308.4 509.1a10.3 10.3 0 1 0 20.6 0a10.3 10.3 0 1 0 -20.6 0M2319.9 509.1a10.3 10.3 0 1 0 20.6 0a10.3 10.3 0 1 0 -20.6 0M2331.3 509.1a10.3 10.3 0 1 0 20.6 0a10.3 10.3 0 1 0 -20.6 0M2342.8 509.1a10.3 10.3 0 1 0 20.6 0a10.3 10.3 0 1 0 -20.6 0M2354.2 509.1a10.3 10.3 0 1 0 20.6 0a10.3 10.3 0 1 0 -20.6 0M2365.7 509.1a10.3 10.3 0 1 0 20.6 0a10.3 10.3 0 1 0 -20.6 0M2377.1 509.1a10.3 10.3 0 1 0 20.6 0a10.3 10.3 0 1 0 -20.6 0M2388.6 509.1a10.3 10.3 0 1 0 20.6 0a10.3 10.3 0 1 0 -20.6 0M2400 509.1a10.3 10.3 0 1 0 20.6 0a10.3 10.3 0 1 0 -20.6 0M2411.5 509.1a10.3 10.3 0 1 0 20.6 0a10.3 10.3 0 1 0 -20.6 0M2422.9 509.1a10.3 10.3 0 1 0 20.6 0a10.3 10.3 0 1 0 -20.6 0M2434.3 509.1a10.3 10.3 0 1 0 20.6 0a10.3 10.3 0 1 0 -20.6 0M2445.8 509.1a10.3 10.3 0 1 0 20.6 0a10.3 10.3 0 1 0 -20.6 0M2457.2 509.1a10.3 10.3 0 1 0 20.6 0a10.3 10.3 0 1 0 -20.6 0M2468.7 509.1a10.3 10.3 0 1 0 20.6 0a10.3 10.3 0 1 0 -20.6 0M2480.1 509.1a10.3 10.3 0 1 0 20.6 0a10.3 10.3 0 1 0 -20.6 0M2491.6 509.1a10.3 10.3 0 1 0 20.6 0a10.3 10.3 0 1 0 -20.6 0M2503 509.1a10.3 10.3 0 1 0 20.6 0a10.3 10.3 0 1 0 -20.6 0M2514.5 509.1a10.3 10.3 0 1 0 20.6 0a10.3 10.3 0 1 0 -20.6 0M2525.9 509.1a10.3 10.3 0 1 0 20.6 0a10.3 10.3 0 1 0 -20.6 0M2537.3 509.1a10.3 10.3 0 1 0 20.6 0a10.3 10.3 0 1 0 -20.6 0M2548.8 509.1a10.3 10.3 0 1 0 20.6 0a10.3 10.3 0 1 0 -20.6 0M2560.2 509.1a10.3 10.3 0 1 0 20.6 0a10.3 10.3 0 1 0 -20.6 0M2571.7 509.1a10.3 10.3 0 1 0 20.6 0a10.3 10.3 0 1 0 -20.6 0M2583.1 509.1a10.3 10.3 0 1 0 20.6 0a10.3 10.3 0 1 0 -20.6 0M2594.6 509.1a10.3 10.3 0 1 0 20.6 0a10.3 10.3 0 1 0 -20.6 0M2606 509.1a10.3 10.3 0 1 0 20.6 0a10.3 10.3 0 1 0 -20.6 0M2617.5 509.1a10.3 10.3 0 1 0 20.6 0a10.3 10.3 0 1 0 -20.6 0M2628.9 509.1a10.3 10.3 0 1 0 20.6 0a10.3 10.3 0 1 0 -20.6 0M2640.4 509.1a10.3 10.3 0 1 0 20.6 0a10.3 10.3 0 1 0 -20.6 0M2661.7 509.1a10.3 10.3 0 1 0 20.6 0a10.3 10.3 0 1 0 -20.6 0M2673.7 509.1a10.3 10.3 0 1 0 20.6 0a10.3 10.3 0 1 0 -20.6 0M2707.8 509.1a10.3 10.3 0 1 0 20.6 0a10.3 10.3 0 1 0 -20.6 0M2727 509.1a10.3 10.3 0 1 0 20.6 0a10.3 10.3 0 1 0 -20.6 0M2764.4 509.1a10.3 10.3 0 1 0 20.6 0a10.3 10.3 0 1 0 -20.6 0M2776.4 509.1a10.3 10.3 0 1 0 20.6 0a10.3 10.3 0 1 0 -20.6 0M2788.4 509.1a10.3 10.3 0 1 0 20.6 0a10.3 10.3 0 1 0 -20.6 0M2810.2 509.1a10.3 10.3 0 1 0 20.6 0a10.3 10.3 0 1 0 -20.6 0M2844.4 509.1a10.3 10.3 0 1 0 20.6 0a10.3 10.3 0 1 0 -20.6 0M2855.6 509.1a10.3 10.3 0 1 0 20.6 0a10.3 10.3 0 1 0 -20.6 0M2878.5 509.1a10.3 10.3 0 1 0 20.6 0a10.3 10.3 0 1 0 -20.6 0M2900.9 509.1a10.3 10.3 0 1 0 20.6 0a10.3 10.3 0 1 0 -20.6 0M2935 509.1a10.3 10.3 0 1 0 20.6 0a10.3 10.3 0 1 0 -20.6 0M3094.5 509.1a10.3 10.3 0 1 0 20.6 0a10.3 10.3 0 1 0 -20.6 0M3106.2 509.1a10.3 10.3 0 1 0 20.6 0a10.3 10.3 0 1 0 -20.6 0M3151.6 509.1a10.3 10.3 0 1 0 20.6 0a10.3 10.3 0 1 0 -20.6 0M3197.2 509.1a10.3 10.3 0 1 0 20.6 0a10.3 10.3 0 1 0 -20.6 0M3231 509.1a10.3 10.3 0 1 0 20.6 0a10.3 10.3 0 1 0 -20.6 0M3254 509.1a10.3 10.3 0 1 0 20.6 0a10.3 10.3 0 1 0 -20.6 0M3333.7 509.1a10.3 10.3 0 1 0 20.6 0a10.3 10.3 0 1 0 -20.6 0M1468.1 573a10.3 10.3 0 1 0 20.6 0a10.3 10.3 0 1 0 -20.6 0M1489 573a10.3 10.3 0 1 0 20.6 0a10.3 10.3 0 1 0 -20.6 0M1551.8 573a10.3 10.3 0 1 0 20.6 0a10.3 10.3 0 1 0 -20.6 0M1719.2 573a10.3 10.3 0 1 0 20.6 0a10.3 10.3 0 1 0 -20.6 0M1761.1 573a10.3 10.3 0 1 0 20.6 0a10.3 10.3 0 1 0 -20.6 0M1782 573a10.3 10.3 0 1 0 20.6 0a10.3 10.3 0 1 0 -20.6 0M1802.9 573a10.3 10.3 0 1 0 20.6 0a10.3 10.3 0 1 0 -20.6 0M1886.6 573a10.3 10.3 0 1 0 20.6 0a10.3 10.3 0 1 0 -20.6 0M1928.5 573a10.3 10.3 0 1 0 20.6 0a10.3 10.3 0 1 0 -20.6 0M1970.3 573a10.3 10.3 0 1 0 20.6 0a10.3 10.3 0 1 0 -20.6 0M1991.3 573a10.3 10.3 0 1 0 20.6 0a10.3 10.3 0 1 0 -20.6 0M2012.2 573a10.3 10.3 0 1 0 20.6 0a10.3 10.3 0 1 0 -20.6 0M2033.1 573a10.3 10.3 0 1 0 20.6 0a10.3 10.3 0 1 0 -20.6 0M2054 573a10.3 10.3 0 1 0 20.6 0a10.3 10.3 0 1 0 -20.6 0M2074.9 573a10.3 10.3 0 1 0 20.6 0a10.3 10.3 0 1 0 -20.6 0M2095.9 573a10.3 10.3 0 1 0 20.6 0a10.3 10.3 0 1 0 -20.6 0M2116.8 573a10.3 10.3 0 1 0 20.6 0a10.3 10.3 0 1 0 -20.6 0M2137.7 573a10.3 10.3 0 1 0 20.6 0a10.3 10.3 0 1 0 -20.6 0M2158.7 573a10.3 10.3 0 1 0 20.6 0a10.3 10.3 0 1 0 -20.6 0M2179.6 573a10.3 10.3 0 1 0 20.6 0a10.3 10.3 0 1 0 -20.6 0M2200.5 573a10.3 10.3 0 1 0 20.6 0a10.3 10.3 0 1 0 -20.6 0M2221.4 573a10.3 10.3 0 1 0 20.6 0a10.3 10.3 0 1 0 -20.6 0M2242.3 573a10.3 10.3 0 1 0 20.6 0a10.3 10.3 0 1 0 -20.6 0M2263.3 573a10.3 10.3 0 1 0 20.6 0a10.3 10.3 0 1 0 -20.6 0M2284.2 573a10.3 10.3 0 1 0 20.6 0a10.3 10.3 0 1 0 -20.6 0M2305.1 573a10.3 10.3 0 1 0 20.6 0a10.3 10.3 0 1 0 -20.6 0M2326 573a10.3 10.3 0 1 0 20.6 0a10.3 10.3 0 1 0 -20.6 0M2347 573a10.3 10.3 0 1 0 20.6 0a10.3 10.3 0 1 0 -20.6 0M2367.9 573a10.3 10.3 0 1 0 20.6 0a10.3 10.3 0 1 0 -20.6 0M2388.8 573a10.3 10.3 0 1 0 20.6 0a10.3 10.3 0 1 0 -20.6 0M2409.8 573a10.3 10.3 0 1 0 20.6 0a10.3 10.3 0 1 0 -20.6 0M2430.7 573a10.3 10.3 0 1 0 20.6 0a10.3 10.3 0 1 0 -20.6 0M2451.6 573a10.3 10.3 0 1 0 20.6 0a10.3 10.3 0 1 0 -20.6 0M2472.5 573a10.3 10.3 0 1 0 20.6 0a10.3 10.3 0 1 0 -20.6 0M2493.4 573a10.3 10.3 0 1 0 20.6 0a10.3 10.3 0 1 0 -20.6 0M2514.4 573a10.3 10.3 0 1 0 20.6 0a10.3 10.3 0 1 0 -20.6 0M2535.3 573a10.3 10.3 0 1 0 20.6 0a10.3 10.3 0 1 0 -20.6 0M2556.2 573a10.3 10.3 0 1 0 20.6 0a10.3 10.3 0 1 0 -20.6 0M2577.2 573a10.3 10.3 0 1 0 20.6 0a10.3 10.3 0 1 0 -20.6 0M2598.1 573a10.3 10.3 0 1 0 20.6 0a10.3 10.3 0 1 0 -20.6 0M2619 573a10.3 10.3 0 1 0 20.6 0a10.3 10.3 0 1 0 -20.6 0M2639.9 573a10.3 10.3 0 1 0 20.6 0a10.3 10.3 0 1 0 -20.6 0M2660.8 573a10.3 10.3 0 1 0 20.6 0a10.3 10.3 0 1 0 -20.6 0M2681.8 573a10.3 10.3 0 1 0 20.6 0a10.3 10.3 0 1 0 -20.6 0M2702.7 573a10.3 10.3 0 1 0 20.6 0a10.3 10.3 0 1 0 -20.6 0M2723.6 573a10.3 10.3 0 1 0 20.6 0a10.3 10.3 0 1 0 -20.6 0M2786.4 573a10.3 10.3 0 1 0 20.6 0a10.3 10.3 0 1 0 -20.6 0M2849.2 573a10.3 10.3 0 1 0 20.6 0a10.3 10.3 0 1 0 -20.6 0M2891 573a10.3 10.3 0 1 0 20.6 0a10.3 10.3 0 1 0 -20.6 0M2995.7 573a10.3 10.3 0 1 0 20.6 0a10.3 10.3 0 1 0 -20.6 0M3121.2 573a10.3 10.3 0 1 0 20.6 0a10.3 10.3 0 1 0 -20.6 0M3163.1 573a10.3 10.3 0 1 0 20.6 0a10.3 10.3 0 1 0 -20.6 0M3267.7 573a10.3 10.3 0 1 0 20.6 0a10.3 10.3 0 1 0 -20.6 0M3309.5 573a10.3 10.3 0 1 0 20.6 0a10.3 10.3 0 1 0 -20.6 0M1529.7 637a10.3 10.3 0 1 0 20.6 0a10.3 10.3 0 1 0 -20.6 0M1586.4 637a10.3 10.3 0 1 0 20.6 0a10.3 10.3 0 1 0 -20.6 0M1700 637a10.3 10.3 0 1 0 20.6 0a10.3 10.3 0 1 0 -20.6 0M1756.8 637a10.3 10.3 0 1 0 20.6 0a10.3 10.3 0 1 0 -20.6 0M1870.3 637a10.3 10.3 0 1 0 20.6 0a10.3 10.3 0 1 0 -20.6 0M1927.1 637a10.3 10.3 0 1 0 20.6 0a10.3 10.3 0 1 0 -20.6 0M1983.8 637a10.3 10.3 0 1 0 20.6 0a10.3 10.3 0 1 0 -20.6 0M2040.6 637a10.3 10.3 0 1 0 20.6 0a10.3 10.3 0 1 0 -20.6 0M2097.4 637a10.3 10.3 0 1 0 20.6 0a10.3 10.3 0 1 0 -20.6 0M2154.1 637a10.3 10.3 0 1 0 20.6 0a10.3 10.3 0 1 0 -20.6 0M2210.9 637a10.3 10.3 0 1 0 20.6 0a10.3 10.3 0 1 0 -20.6 0M2267.7 637a10.3 10.3 0 1 0 20.6 0a10.3 10.3 0 1 0 -20.6 0M2324.4 637a10.3 10.3 0 1 0 20.6 0a10.3 10.3 0 1 0 -20.6 0M2381.2 637a10.3 10.3 0 1 0 20.6 0a10.3 10.3 0 1 0 -20.6 0M2438 637a10.3 10.3 0 1 0 20.6 0a10.3 10.3 0 1 0 -20.6 0M2494.8 637a10.3 10.3 0 1 0 20.6 0a10.3 10.3 0 1 0 -20.6 0M2551.5 637a10.3 10.3 0 1 0 20.6 0a10.3 10.3 0 1 0 -20.6 0M2608.3 637a10.3 10.3 0 1 0 20.6 0a10.3 10.3 0 1 0 -20.6 0M2665.1 637a10.3 10.3 0 1 0 20.6 0a10.3 10.3 0 1 0 -20.6 0M2778.6 637a10.3 10.3 0 1 0 20.6 0a10.3 10.3 0 1 0 -20.6 0M2835.4 637a10.3 10.3 0 1 0 20.6 0a10.3 10.3 0 1 0 -20.6 0M2892.2 637a10.3 10.3 0 1 0 20.6 0a10.3 10.3 0 1 0 -20.6 0M2948.9 637a10.3 10.3 0 1 0 20.6 0a10.3 10.3 0 1 0 -20.6 0M3005.7 637a10.3 10.3 0 1 0 20.6 0a10.3 10.3 0 1 0 -20.6 0M3062.5 637a10.3 10.3 0 1 0 20.6 0a10.3 10.3 0 1 0 -20.6 0M3119.2 637a10.3 10.3 0 1 0 20.6 0a10.3 10.3 0 1 0 -20.6 0M3232.8 637a10.3 10.3 0 1 0 20.6 0a10.3 10.3 0 1 0 -20.6 0M1438.1 701a10.3 10.3 0 1 0 20.6 0a10.3 10.3 0 1 0 -20.6 0M1623.7 701a10.3 10.3 0 1 0 20.6 0a10.3 10.3 0 1 0 -20.6 0M1693.3 701a10.3 10.3 0 1 0 20.6 0a10.3 10.3 0 1 0 -20.6 0M1716.5 701a10.3 10.3 0 1 0 20.6 0a10.3 10.3 0 1 0 -20.6 0M1809.3 701a10.3 10.3 0 1 0 20.6 0a10.3 10.3 0 1 0 -20.6 0M1878.9 701a10.3 10.3 0 1 0 20.6 0a10.3 10.3 0 1 0 -20.6 0M1925.3 701a10.3 10.3 0 1 0 20.6 0a10.3 10.3 0 1 0 -20.6 0M1948.5 701a10.3 10.3 0 1 0 20.6 0a10.3 10.3 0 1 0 -20.6 0M1971.7 701a10.3 10.3 0 1 0 20.6 0a10.3 10.3 0 1 0 -20.6 0M1994.9 701a10.3 10.3 0 1 0 20.6 0a10.3 10.3 0 1 0 -20.6 0M2018.1 701a10.3 10.3 0 1 0 20.6 0a10.3 10.3 0 1 0 -20.6 0M2041.3 701a10.3 10.3 0 1 0 20.6 0a10.3 10.3 0 1 0 -20.6 0M2087.7 701a10.3 10.3 0 1 0 20.6 0a10.3 10.3 0 1 0 -20.6 0M2110.9 701a10.3 10.3 0 1 0 20.6 0a10.3 10.3 0 1 0 -20.6 0M2134.1 701a10.3 10.3 0 1 0 20.6 0a10.3 10.3 0 1 0 -20.6 0M2157.3 701a10.3 10.3 0 1 0 20.6 0a10.3 10.3 0 1 0 -20.6 0M2180.5 701a10.3 10.3 0 1 0 20.6 0a10.3 10.3 0 1 0 -20.6 0M2203.7 701a10.3 10.3 0 1 0 20.6 0a10.3 10.3 0 1 0 -20.6 0M2226.9 701a10.3 10.3 0 1 0 20.6 0a10.3 10.3 0 1 0 -20.6 0M2250.1 701a10.3 10.3 0 1 0 20.6 0a10.3 10.3 0 1 0 -20.6 0M2273.3 701a10.3 10.3 0 1 0 20.6 0a10.3 10.3 0 1 0 -20.6 0M2296.5 701a10.3 10.3 0 1 0 20.6 0a10.3 10.3 0 1 0 -20.6 0M2319.7 701a10.3 10.3 0 1 0 20.6 0a10.3 10.3 0 1 0 -20.6 0M2342.9 701a10.3 10.3 0 1 0 20.6 0a10.3 10.3 0 1 0 -20.6 0M2366.1 701a10.3 10.3 0 1 0 20.6 0a10.3 10.3 0 1 0 -20.6 0M2389.3 701a10.3 10.3 0 1 0 20.6 0a10.3 10.3 0 1 0 -20.6 0M2412.5 701a10.3 10.3 0 1 0 20.6 0a10.3 10.3 0 1 0 -20.6 0M2435.7 701a10.3 10.3 0 1 0 20.6 0a10.3 10.3 0 1 0 -20.6 0M2458.9 701a10.3 10.3 0 1 0 20.6 0a10.3 10.3 0 1 0 -20.6 0M2482.1 701a10.3 10.3 0 1 0 20.6 0a10.3 10.3 0 1 0 -20.6 0M2505.3 701a10.3 10.3 0 1 0 20.6 0a10.3 10.3 0 1 0 -20.6 0M2528.5 701a10.3 10.3 0 1 0 20.6 0a10.3 10.3 0 1 0 -20.6 0M2551.7 701a10.3 10.3 0 1 0 20.6 0a10.3 10.3 0 1 0 -20.6 0M2574.9 701a10.3 10.3 0 1 0 20.6 0a10.3 10.3 0 1 0 -20.6 0M2598.1 701a10.3 10.3 0 1 0 20.6 0a10.3 10.3 0 1 0 -20.6 0M2621.3 701a10.3 10.3 0 1 0 20.6 0a10.3 10.3 0 1 0 -20.6 0M2644.5 701a10.3 10.3 0 1 0 20.6 0a10.3 10.3 0 1 0 -20.6 0M2667.7 701a10.3 10.3 0 1 0 20.6 0a10.3 10.3 0 1 0 -20.6 0M2690.9 701a10.3 10.3 0 1 0 20.6 0a10.3 10.3 0 1 0 -20.6 0M2714.1 701a10.3 10.3 0 1 0 20.6 0a10.3 10.3 0 1 0 -20.6 0M2737.3 701a10.3 10.3 0 1 0 20.6 0a10.3 10.3 0 1 0 -20.6 0M2760.5 701a10.3 10.3 0 1 0 20.6 0a10.3 10.3 0 1 0 -20.6 0M2783.7 701a10.3 10.3 0 1 0 20.6 0a10.3 10.3 0 1 0 -20.6 0M2806.9 701a10.3 10.3 0 1 0 20.6 0a10.3 10.3 0 1 0 -20.6 0M2830.1 701a10.3 10.3 0 1 0 20.6 0a10.3 10.3 0 1 0 -20.6 0M2876.5 701a10.3 10.3 0 1 0 20.6 0a10.3 10.3 0 1 0 -20.6 0M2899.7 701a10.3 10.3 0 1 0 20.6 0a10.3 10.3 0 1 0 -20.6 0M2969.3 701a10.3 10.3 0 1 0 20.6 0a10.3 10.3 0 1 0 -20.6 0M3015.7 701a10.3 10.3 0 1 0 20.6 0a10.3 10.3 0 1 0 -20.6 0M1646.6 765a10.3 10.3 0 1 0 20.6 0a10.3 10.3 0 1 0 -20.6 0M1812.6 765a10.3 10.3 0 1 0 20.6 0a10.3 10.3 0 1 0 -20.6 0M1895.5 765a10.3 10.3 0 1 0 20.6 0a10.3 10.3 0 1 0 -20.6 0M1978.5 765a10.3 10.3 0 1 0 20.6 0a10.3 10.3 0 1 0 -20.6 0M2061.5 765a10.3 10.3 0 1 0 20.6 0a10.3 10.3 0 1 0 -20.6 0M2144.5 765a10.3 10.3 0 1 0 20.6 0a10.3 10.3 0 1 0 -20.6 0M2227.5 765a10.3 10.3 0 1 0 20.6 0a10.3 10.3 0 1 0 -20.6 0M2310.4 765a10.3 10.3 0 1 0 20.6 0a10.3 10.3 0 1 0 -20.6 0M2393.4 765a10.3 10.3 0 1 0 20.6 0a10.3 10.3 0 1 0 -20.6 0M2476.4 765a10.3 10.3 0 1 0 20.6 0a10.3 10.3 0 1 0 -20.6 0M2559.4 765a10.3 10.3 0 1 0 20.6 0a10.3 10.3 0 1 0 -20.6 0M2725.3 765a10.3 10.3 0 1 0 20.6 0a10.3 10.3 0 1 0 -20.6 0M2808.3 765a10.3 10.3 0 1 0 20.6 0a10.3 10.3 0 1 0 -20.6 0M2974.3 765a10.3 10.3 0 1 0 20.6 0a10.3 10.3 0 1 0 -20.6 0M3057.3 765a10.3 10.3 0 1 0 20.6 0a10.3 10.3 0 1 0 -20.6 0M3140.2 765a10.3 10.3 0 1 0 20.6 0a10.3 10.3 0 1 0 -20.6 0M3306.2 765a10.3 10.3 0 1 0 20.6 0a10.3 10.3 0 1 0 -20.6 0M1861.5 829a10.3 10.3 0 1 0 20.6 0a10.3 10.3 0 1 0 -20.6 0M2044.9 829a10.3 10.3 0 1 0 20.6 0a10.3 10.3 0 1 0 -20.6 0M2228.3 829a10.3 10.3 0 1 0 20.6 0a10.3 10.3 0 1 0 -20.6 0M2595.1 829a10.3 10.3 0 1 0 20.6 0a10.3 10.3 0 1 0 -20.6 0M2778.5 829a10.3 10.3 0 1 0 20.6 0a10.3 10.3 0 1 0 -20.6 0M3145.3 829a10.3 10.3 0 1 0 20.6 0a10.3 10.3 0 1 0 -20.6 0M3328.7 829a10.3 10.3 0 1 0 20.6 0a10.3 10.3 0 1 0 -20.6 0M1519.8 892.9a10.3 10.3 0 1 0 20.6 0a10.3 10.3 0 1 0 -20.6 0M1559.4 892.9a10.3 10.3 0 1 0 20.6 0a10.3 10.3 0 1 0 -20.6 0M1599.1 892.9a10.3 10.3 0 1 0 20.6 0a10.3 10.3 0 1 0 -20.6 0M1658.5 892.9a10.3 10.3 0 1 0 20.6 0a10.3 10.3 0 1 0 -20.6 0M1678.3 892.9a10.3 10.3 0 1 0 20.6 0a10.3 10.3 0 1 0 -20.6 0M1698.2 892.9a10.3 10.3 0 1 0 20.6 0a10.3 10.3 0 1 0 -20.6 0M1737.8 892.9a10.3 10.3 0 1 0 20.6 0a10.3 10.3 0 1 0 -20.6 0M1757.6 892.9a10.3 10.3 0 1 0 20.6 0a10.3 10.3 0 1 0 -20.6 0M1777.4 892.9a10.3 10.3 0 1 0 20.6 0a10.3 10.3 0 1 0 -20.6 0M1797.3 892.9a10.3 10.3 0 1 0 20.6 0a10.3 10.3 0 1 0 -20.6 0M1817.1 892.9a10.3 10.3 0 1 0 20.6 0a10.3 10.3 0 1 0 -20.6 0M1836.9 892.9a10.3 10.3 0 1 0 20.6 0a10.3 10.3 0 1 0 -20.6 0M1856.7 892.9a10.3 10.3 0 1 0 20.6 0a10.3 10.3 0 1 0 -20.6 0M1876.5 892.9a10.3 10.3 0 1 0 20.6 0a10.3 10.3 0 1 0 -20.6 0M1896.4 892.9a10.3 10.3 0 1 0 20.6 0a10.3 10.3 0 1 0 -20.6 0M1916.2 892.9a10.3 10.3 0 1 0 20.6 0a10.3 10.3 0 1 0 -20.6 0M1936 892.9a10.3 10.3 0 1 0 20.6 0a10.3 10.3 0 1 0 -20.6 0M1955.8 892.9a10.3 10.3 0 1 0 20.6 0a10.3 10.3 0 1 0 -20.6 0M1975.6 892.9a10.3 10.3 0 1 0 20.6 0a10.3 10.3 0 1 0 -20.6 0M1995.5 892.9a10.3 10.3 0 1 0 20.6 0a10.3 10.3 0 1 0 -20.6 0M2015.3 892.9a10.3 10.3 0 1 0 20.6 0a10.3 10.3 0 1 0 -20.6 0M2035.1 892.9a10.3 10.3 0 1 0 20.6 0a10.3 10.3 0 1 0 -20.6 0M2054.9 892.9a10.3 10.3 0 1 0 20.6 0a10.3 10.3 0 1 0 -20.6 0M2074.7 892.9a10.3 10.3 0 1 0 20.6 0a10.3 10.3 0 1 0 -20.6 0M2094.6 892.9a10.3 10.3 0 1 0 20.6 0a10.3 10.3 0 1 0 -20.6 0M2114.4 892.9a10.3 10.3 0 1 0 20.6 0a10.3 10.3 0 1 0 -20.6 0M2193.7 892.9a10.3 10.3 0 1 0 20.6 0a10.3 10.3 0 1 0 -20.6 0M2213.5 892.9a10.3 10.3 0 1 0 20.6 0a10.3 10.3 0 1 0 -20.6 0M2233.3 892.9a10.3 10.3 0 1 0 20.6 0a10.3 10.3 0 1 0 -20.6 0M2253.1 892.9a10.3 10.3 0 1 0 20.6 0a10.3 10.3 0 1 0 -20.6 0M2272.9 892.9a10.3 10.3 0 1 0 20.6 0a10.3 10.3 0 1 0 -20.6 0M2292.8 892.9a10.3 10.3 0 1 0 20.6 0a10.3 10.3 0 1 0 -20.6 0M2312.6 892.9a10.3 10.3 0 1 0 20.6 0a10.3 10.3 0 1 0 -20.6 0M2332.4 892.9a10.3 10.3 0 1 0 20.6 0a10.3 10.3 0 1 0 -20.6 0M2352.2 892.9a10.3 10.3 0 1 0 20.6 0a10.3 10.3 0 1 0 -20.6 0M2372 892.9a10.3 10.3 0 1 0 20.6 0a10.3 10.3 0 1 0 -20.6 0M2391.9 892.9a10.3 10.3 0 1 0 20.6 0a10.3 10.3 0 1 0 -20.6 0M2411.7 892.9a10.3 10.3 0 1 0 20.6 0a10.3 10.3 0 1 0 -20.6 0M2431.5 892.9a10.3 10.3 0 1 0 20.6 0a10.3 10.3 0 1 0 -20.6 0M2451.3 892.9a10.3 10.3 0 1 0 20.6 0a10.3 10.3 0 1 0 -20.6 0M2471.1 892.9a10.3 10.3 0 1 0 20.6 0a10.3 10.3 0 1 0 -20.6 0M2491 892.9a10.3 10.3 0 1 0 20.6 0a10.3 10.3 0 1 0 -20.6 0M2510.8 892.9a10.3 10.3 0 1 0 20.6 0a10.3 10.3 0 1 0 -20.6 0M2530.6 892.9a10.3 10.3 0 1 0 20.6 0a10.3 10.3 0 1 0 -20.6 0M2550.4 892.9a10.3 10.3 0 1 0 20.6 0a10.3 10.3 0 1 0 -20.6 0M2570.2 892.9a10.3 10.3 0 1 0 20.6 0a10.3 10.3 0 1 0 -20.6 0M2590.1 892.9a10.3 10.3 0 1 0 20.6 0a10.3 10.3 0 1 0 -20.6 0M2609.9 892.9a10.3 10.3 0 1 0 20.6 0a10.3 10.3 0 1 0 -20.6 0M2629.7 892.9a10.3 10.3 0 1 0 20.6 0a10.3 10.3 0 1 0 -20.6 0M2669.3 892.9a10.3 10.3 0 1 0 20.6 0a10.3 10.3 0 1 0 -20.6 0M2689.2 892.9a10.3 10.3 0 1 0 20.6 0a10.3 10.3 0 1 0 -20.6 0M2728.8 892.9a10.3 10.3 0 1 0 20.6 0a10.3 10.3 0 1 0 -20.6 0M2748.6 892.9a10.3 10.3 0 1 0 20.6 0a10.3 10.3 0 1 0 -20.6 0M2768.4 892.9a10.3 10.3 0 1 0 20.6 0a10.3 10.3 0 1 0 -20.6 0M2808.1 892.9a10.3 10.3 0 1 0 20.6 0a10.3 10.3 0 1 0 -20.6 0M2827.9 892.9a10.3 10.3 0 1 0 20.6 0a10.3 10.3 0 1 0 -20.6 0M2847.7 892.9a10.3 10.3 0 1 0 20.6 0a10.3 10.3 0 1 0 -20.6 0M2867.5 892.9a10.3 10.3 0 1 0 20.6 0a10.3 10.3 0 1 0 -20.6 0M2887.4 892.9a10.3 10.3 0 1 0 20.6 0a10.3 10.3 0 1 0 -20.6 0M1401.2 956.9a10.3 10.3 0 1 0 20.6 0a10.3 10.3 0 1 0 -20.6 0M1662.7 956.9a10.3 10.3 0 1 0 20.6 0a10.3 10.3 0 1 0 -20.6 0M1706.2 956.9a10.3 10.3 0 1 0 20.6 0a10.3 10.3 0 1 0 -20.6 0M1793.4 956.9a10.3 10.3 0 1 0 20.6 0a10.3 10.3 0 1 0 -20.6 0M1837 956.9a10.3 10.3 0 1 0 20.6 0a10.3 10.3 0 1 0 -20.6 0M1880.5 956.9a10.3 10.3 0 1 0 20.6 0a10.3 10.3 0 1 0 -20.6 0M1967.7 956.9a10.3 10.3 0 1 0 20.6 0a10.3 10.3 0 1 0 -20.6 0M2011.2 956.9a10.3 10.3 0 1 0 20.6 0a10.3 10.3 0 1 0 -20.6 0M2054.8 956.9a10.3 10.3 0 1 0 20.6 0a10.3 10.3 0 1 0 -20.6 0M2098.4 956.9a10.3 10.3 0 1 0 20.6 0a10.3 10.3 0 1 0 -20.6 0M2141.9 956.9a10.3 10.3 0 1 0 20.6 0a10.3 10.3 0 1 0 -20.6 0M2185.5 956.9a10.3 10.3 0 1 0 20.6 0a10.3 10.3 0 1 0 -20.6 0M2229.1 956.9a10.3 10.3 0 1 0 20.6 0a10.3 10.3 0 1 0 -20.6 0M2272.6 956.9a10.3 10.3 0 1 0 20.6 0a10.3 10.3 0 1 0 -20.6 0M2316.2 956.9a10.3 10.3 0 1 0 20.6 0a10.3 10.3 0 1 0 -20.6 0M2359.8 956.9a10.3 10.3 0 1 0 20.6 0a10.3 10.3 0 1 0 -20.6 0M2403.4 956.9a10.3 10.3 0 1 0 20.6 0a10.3 10.3 0 1 0 -20.6 0M2446.9 956.9a10.3 10.3 0 1 0 20.6 0a10.3 10.3 0 1 0 -20.6 0M2534.1 956.9a10.3 10.3 0 1 0 20.6 0a10.3 10.3 0 1 0 -20.6 0M2577.6 956.9a10.3 10.3 0 1 0 20.6 0a10.3 10.3 0 1 0 -20.6 0M2621.2 956.9a10.3 10.3 0 1 0 20.6 0a10.3 10.3 0 1 0 -20.6 0M2664.8 956.9a10.3 10.3 0 1 0 20.6 0a10.3 10.3 0 1 0 -20.6 0M2751.9 956.9a10.3 10.3 0 1 0 20.6 0a10.3 10.3 0 1 0 -20.6 0M2839.1 956.9a10.3 10.3 0 1 0 20.6 0a10.3 10.3 0 1 0 -20.6 0M2882.6 956.9a10.3 10.3 0 1 0 20.6 0a10.3 10.3 0 1 0 -20.6 0M2926.2 956.9a10.3 10.3 0 1 0 20.6 0a10.3 10.3 0 1 0 -20.6 0M3056.9 956.9a10.3 10.3 0 1 0 20.6 0a10.3 10.3 0 1 0 -20.6 0M3144 956.9a10.3 10.3 0 1 0 20.6 0a10.3 10.3 0 1 0 -20.6 0M3318.3 956.9a10.3 10.3 0 1 0 20.6 0a10.3 10.3 0 1 0 -20.6 0M1468.8 1020.9a10.3 10.3 0 1 0 20.6 0a10.3 10.3 0 1 0 -20.6 0M1662.8 1020.9a10.3 10.3 0 1 0 20.6 0a10.3 10.3 0 1 0 -20.6 0M1705.9 1020.9a10.3 10.3 0 1 0 20.6 0a10.3 10.3 0 1 0 -20.6 0M1770.5 1020.9a10.3 10.3 0 1 0 20.6 0a10.3 10.3 0 1 0 -20.6 0M1792.1 1020.9a10.3 10.3 0 1 0 20.6 0a10.3 10.3 0 1 0 -20.6 0M1878.3 1020.9a10.3 10.3 0 1 0 20.6 0a10.3 10.3 0 1 0 -20.6 0M1899.8 1020.9a10.3 10.3 0 1 0 20.6 0a10.3 10.3 0 1 0 -20.6 0M1921.4 1020.9a10.3 10.3 0 1 0 20.6 0a10.3 10.3 0 1 0 -20.6 0M1942.9 1020.9a10.3 10.3 0 1 0 20.6 0a10.3 10.3 0 1 0 -20.6 0M1964.5 1020.9a10.3 10.3 0 1 0 20.6 0a10.3 10.3 0 1 0 -20.6 0M1986 1020.9a10.3 10.3 0 1 0 20.6 0a10.3 10.3 0 1 0 -20.6 0M2007.6 1020.9a10.3 10.3 0 1 0 20.6 0a10.3 10.3 0 1 0 -20.6 0M2029.1 1020.9a10.3 10.3 0 1 0 20.6 0a10.3 10.3 0 1 0 -20.6 0M2050.7 1020.9a10.3 10.3 0 1 0 20.6 0a10.3 10.3 0 1 0 -20.6 0M2072.2 1020.9a10.3 10.3 0 1 0 20.6 0a10.3 10.3 0 1 0 -20.6 0M2093.8 1020.9a10.3 10.3 0 1 0 20.6 0a10.3 10.3 0 1 0 -20.6 0M2115.3 1020.9a10.3 10.3 0 1 0 20.6 0a10.3 10.3 0 1 0 -20.6 0M2136.8 1020.9a10.3 10.3 0 1 0 20.6 0a10.3 10.3 0 1 0 -20.6 0M2158.4 1020.9a10.3 10.3 0 1 0 20.6 0a10.3 10.3 0 1 0 -20.6 0M2179.9 1020.9a10.3 10.3 0 1 0 20.6 0a10.3 10.3 0 1 0 -20.6 0M2201.5 1020.9a10.3 10.3 0 1 0 20.6 0a10.3 10.3 0 1 0 -20.6 0M2223 1020.9a10.3 10.3 0 1 0 20.6 0a10.3 10.3 0 1 0 -20.6 0M2244.6 1020.9a10.3 10.3 0 1 0 20.6 0a10.3 10.3 0 1 0 -20.6 0M2266.2 1020.9a10.3 10.3 0 1 0 20.6 0a10.3 10.3 0 1 0 -20.6 0M2287.7 1020.9a10.3 10.3 0 1 0 20.6 0a10.3 10.3 0 1 0 -20.6 0M2309.2 1020.9a10.3 10.3 0 1 0 20.6 0a10.3 10.3 0 1 0 -20.6 0M2330.8 1020.9a10.3 10.3 0 1 0 20.6 0a10.3 10.3 0 1 0 -20.6 0M2352.3 1020.9a10.3 10.3 0 1 0 20.6 0a10.3 10.3 0 1 0 -20.6 0M2373.9 1020.9a10.3 10.3 0 1 0 20.6 0a10.3 10.3 0 1 0 -20.6 0M2395.4 1020.9a10.3 10.3 0 1 0 20.6 0a10.3 10.3 0 1 0 -20.6 0M2417 1020.9a10.3 10.3 0 1 0 20.6 0a10.3 10.3 0 1 0 -20.6 0M2438.5 1020.9a10.3 10.3 0 1 0 20.6 0a10.3 10.3 0 1 0 -20.6 0M2460.1 1020.9a10.3 10.3 0 1 0 20.6 0a10.3 10.3 0 1 0 -20.6 0M2481.7 1020.9a10.3 10.3 0 1 0 20.6 0a10.3 10.3 0 1 0 -20.6 0M2503.2 1020.9a10.3 10.3 0 1 0 20.6 0a10.3 10.3 0 1 0 -20.6 0M2524.8 1020.9a10.3 10.3 0 1 0 20.6 0a10.3 10.3 0 1 0 -20.6 0M2546.3 1020.9a10.3 10.3 0 1 0 20.6 0a10.3 10.3 0 1 0 -20.6 0M2567.8 1020.9a10.3 10.3 0 1 0 20.6 0a10.3 10.3 0 1 0 -20.6 0M2589.4 1020.9a10.3 10.3 0 1 0 20.6 0a10.3 10.3 0 1 0 -20.6 0M2610.9 1020.9a10.3 10.3 0 1 0 20.6 0a10.3 10.3 0 1 0 -20.6 0M2632.5 1020.9a10.3 10.3 0 1 0 20.6 0a10.3 10.3 0 1 0 -20.6 0M2654.1 1020.9a10.3 10.3 0 1 0 20.6 0a10.3 10.3 0 1 0 -20.6 0M2675.6 1020.9a10.3 10.3 0 1 0 20.6 0a10.3 10.3 0 1 0 -20.6 0M2697.2 1020.9a10.3 10.3 0 1 0 20.6 0a10.3 10.3 0 1 0 -20.6 0M2718.7 1020.9a10.3 10.3 0 1 0 20.6 0a10.3 10.3 0 1 0 -20.6 0M2740.2 1020.9a10.3 10.3 0 1 0 20.6 0a10.3 10.3 0 1 0 -20.6 0M2783.3 1020.9a10.3 10.3 0 1 0 20.6 0a10.3 10.3 0 1 0 -20.6 0M2804.9 1020.9a10.3 10.3 0 1 0 20.6 0a10.3 10.3 0 1 0 -20.6 0M2826.4 1020.9a10.3 10.3 0 1 0 20.6 0a10.3 10.3 0 1 0 -20.6 0M2848 1020.9a10.3 10.3 0 1 0 20.6 0a10.3 10.3 0 1 0 -20.6 0M2869.6 1020.9a10.3 10.3 0 1 0 20.6 0a10.3 10.3 0 1 0 -20.6 0M2912.7 1020.9a10.3 10.3 0 1 0 20.6 0a10.3 10.3 0 1 0 -20.6 0M3063.5 1020.9a10.3 10.3 0 1 0 20.6 0a10.3 10.3 0 1 0 -20.6 0M3085.1 1020.9a10.3 10.3 0 1 0 20.6 0a10.3 10.3 0 1 0 -20.6 0M3106.6 1020.9a10.3 10.3 0 1 0 20.6 0a10.3 10.3 0 1 0 -20.6 0M3128.1 1020.9a10.3 10.3 0 1 0 20.6 0a10.3 10.3 0 1 0 -20.6 0M3171.2 1020.9a10.3 10.3 0 1 0 20.6 0a10.3 10.3 0 1 0 -20.6 0M3257.4 1020.9a10.3 10.3 0 1 0 20.6 0a10.3 10.3 0 1 0 -20.6 0M1395.8 1084.9a10.3 10.3 0 1 0 20.6 0a10.3 10.3 0 1 0 -20.6 0M1533.8 1084.9a10.3 10.3 0 1 0 20.6 0a10.3 10.3 0 1 0 -20.6 0M1579.8 1084.9a10.3 10.3 0 1 0 20.6 0a10.3 10.3 0 1 0 -20.6 0M1625.8 1084.9a10.3 10.3 0 1 0 20.6 0a10.3 10.3 0 1 0 -20.6 0M1717.8 1084.9a10.3 10.3 0 1 0 20.6 0a10.3 10.3 0 1 0 -20.6 0M1763.8 1084.9a10.3 10.3 0 1 0 20.6 0a10.3 10.3 0 1 0 -20.6 0M1809.8 1084.9a10.3 10.3 0 1 0 20.6 0a10.3 10.3 0 1 0 -20.6 0M1855.8 1084.9a10.3 10.3 0 1 0 20.6 0a10.3 10.3 0 1 0 -20.6 0M1901.8 1084.9a10.3 10.3 0 1 0 20.6 0a10.3 10.3 0 1 0 -20.6 0M1947.8 1084.9a10.3 10.3 0 1 0 20.6 0a10.3 10.3 0 1 0 -20.6 0M1993.8 1084.9a10.3 10.3 0 1 0 20.6 0a10.3 10.3 0 1 0 -20.6 0M2039.8 1084.9a10.3 10.3 0 1 0 20.6 0a10.3 10.3 0 1 0 -20.6 0M2085.8 1084.9a10.3 10.3 0 1 0 20.6 0a10.3 10.3 0 1 0 -20.6 0M2131.8 1084.9a10.3 10.3 0 1 0 20.6 0a10.3 10.3 0 1 0 -20.6 0M2177.8 1084.9a10.3 10.3 0 1 0 20.6 0a10.3 10.3 0 1 0 -20.6 0M2223.8 1084.9a10.3 10.3 0 1 0 20.6 0a10.3 10.3 0 1 0 -20.6 0M2269.8 1084.9a10.3 10.3 0 1 0 20.6 0a10.3 10.3 0 1 0 -20.6 0M2315.8 1084.9a10.3 10.3 0 1 0 20.6 0a10.3 10.3 0 1 0 -20.6 0M2361.8 1084.9a10.3 10.3 0 1 0 20.6 0a10.3 10.3 0 1 0 -20.6 0M2407.8 1084.9a10.3 10.3 0 1 0 20.6 0a10.3 10.3 0 1 0 -20.6 0M2453.8 1084.9a10.3 10.3 0 1 0 20.6 0a10.3 10.3 0 1 0 -20.6 0M2499.8 1084.9a10.3 10.3 0 1 0 20.6 0a10.3 10.3 0 1 0 -20.6 0M2545.8 1084.9a10.3 10.3 0 1 0 20.6 0a10.3 10.3 0 1 0 -20.6 0M2637.8 1084.9a10.3 10.3 0 1 0 20.6 0a10.3 10.3 0 1 0 -20.6 0M2683.8 1084.9a10.3 10.3 0 1 0 20.6 0a10.3 10.3 0 1 0 -20.6 0M2729.8 1084.9a10.3 10.3 0 1 0 20.6 0a10.3 10.3 0 1 0 -20.6 0M2775.8 1084.9a10.3 10.3 0 1 0 20.6 0a10.3 10.3 0 1 0 -20.6 0M2821.8 1084.9a10.3 10.3 0 1 0 20.6 0a10.3 10.3 0 1 0 -20.6 0M2867.8 1084.9a10.3 10.3 0 1 0 20.6 0a10.3 10.3 0 1 0 -20.6 0M2959.8 1084.9a10.3 10.3 0 1 0 20.6 0a10.3 10.3 0 1 0 -20.6 0M3143.8 1084.9a10.3 10.3 0 1 0 20.6 0a10.3 10.3 0 1 0 -20.6 0M1615.4 1148.9a10.3 10.3 0 1 0 20.6 0a10.3 10.3 0 1 0 -20.6 0M1762.6 1148.9a10.3 10.3 0 1 0 20.6 0a10.3 10.3 0 1 0 -20.6 0M1836.2 1148.9a10.3 10.3 0 1 0 20.6 0a10.3 10.3 0 1 0 -20.6 0M1872.9 1148.9a10.3 10.3 0 1 0 20.6 0a10.3 10.3 0 1 0 -20.6 0M1909.7 1148.9a10.3 10.3 0 1 0 20.6 0a10.3 10.3 0 1 0 -20.6 0M1946.5 1148.9a10.3 10.3 0 1 0 20.6 0a10.3 10.3 0 1 0 -20.6 0M1983.3 1148.9a10.3 10.3 0 1 0 20.6 0a10.3 10.3 0 1 0 -20.6 0M2020.1 1148.9a10.3 10.3 0 1 0 20.6 0a10.3 10.3 0 1 0 -20.6 0M2056.9 1148.9a10.3 10.3 0 1 0 20.6 0a10.3 10.3 0 1 0 -20.6 0M2093.7 1148.9a10.3 10.3 0 1 0 20.6 0a10.3 10.3 0 1 0 -20.6 0M2130.5 1148.9a10.3 10.3 0 1 0 20.6 0a10.3 10.3 0 1 0 -20.6 0M2167.3 1148.9a10.3 10.3 0 1 0 20.6 0a10.3 10.3 0 1 0 -20.6 0M2204.1 1148.9a10.3 10.3 0 1 0 20.6 0a10.3 10.3 0 1 0 -20.6 0M2240.8 1148.9a10.3 10.3 0 1 0 20.6 0a10.3 10.3 0 1 0 -20.6 0M2277.6 1148.9a10.3 10.3 0 1 0 20.6 0a10.3 10.3 0 1 0 -20.6 0M2314.4 1148.9a10.3 10.3 0 1 0 20.6 0a10.3 10.3 0 1 0 -20.6 0M2351.2 1148.9a10.3 10.3 0 1 0 20.6 0a10.3 10.3 0 1 0 -20.6 0M2388 1148.9a10.3 10.3 0 1 0 20.6 0a10.3 10.3 0 1 0 -20.6 0M2424.8 1148.9a10.3 10.3 0 1 0 20.6 0a10.3 10.3 0 1 0 -20.6 0M2461.6 1148.9a10.3 10.3 0 1 0 20.6 0a10.3 10.3 0 1 0 -20.6 0M2498.4 1148.9a10.3 10.3 0 1 0 20.6 0a10.3 10.3 0 1 0 -20.6 0M2535.2 1148.9a10.3 10.3 0 1 0 20.6 0a10.3 10.3 0 1 0 -20.6 0M2608.7 1148.9a10.3 10.3 0 1 0 20.6 0a10.3 10.3 0 1 0 -20.6 0M2645.5 1148.9a10.3 10.3 0 1 0 20.6 0a10.3 10.3 0 1 0 -20.6 0M2682.3 1148.9a10.3 10.3 0 1 0 20.6 0a10.3 10.3 0 1 0 -20.6 0M2719.1 1148.9a10.3 10.3 0 1 0 20.6 0a10.3 10.3 0 1 0 -20.6 0M2792.7 1148.9a10.3 10.3 0 1 0 20.6 0a10.3 10.3 0 1 0 -20.6 0M2829.5 1148.9a10.3 10.3 0 1 0 20.6 0a10.3 10.3 0 1 0 -20.6 0M2866.3 1148.9a10.3 10.3 0 1 0 20.6 0a10.3 10.3 0 1 0 -20.6 0M2903.1 1148.9a10.3 10.3 0 1 0 20.6 0a10.3 10.3 0 1 0 -20.6 0M2939.9 1148.9a10.3 10.3 0 1 0 20.6 0a10.3 10.3 0 1 0 -20.6 0M2976.6 1148.9a10.3 10.3 0 1 0 20.6 0a10.3 10.3 0 1 0 -20.6 0M3050.2 1148.9a10.3 10.3 0 1 0 20.6 0a10.3 10.3 0 1 0 -20.6 0M3087 1148.9a10.3 10.3 0 1 0 20.6 0a10.3 10.3 0 1 0 -20.6 0M1733.4 1212.8a10.3 10.3 0 1 0 20.6 0a10.3 10.3 0 1 0 -20.6 0M1864.4 1212.8a10.3 10.3 0 1 0 20.6 0a10.3 10.3 0 1 0 -20.6 0M1951.7 1212.8a10.3 10.3 0 1 0 20.6 0a10.3 10.3 0 1 0 -20.6 0M1995.3 1212.8a10.3 10.3 0 1 0 20.6 0a10.3 10.3 0 1 0 -20.6 0M2039 1212.8a10.3 10.3 0 1 0 20.6 0a10.3 10.3 0 1 0 -20.6 0M2082.7 1212.8a10.3 10.3 0 1 0 20.6 0a10.3 10.3 0 1 0 -20.6 0M2126.3 1212.8a10.3 10.3 0 1 0 20.6 0a10.3 10.3 0 1 0 -20.6 0M2170 1212.8a10.3 10.3 0 1 0 20.6 0a10.3 10.3 0 1 0 -20.6 0M2213.6 1212.8a10.3 10.3 0 1 0 20.6 0a10.3 10.3 0 1 0 -20.6 0M2257.3 1212.8a10.3 10.3 0 1 0 20.6 0a10.3 10.3 0 1 0 -20.6 0M2301 1212.8a10.3 10.3 0 1 0 20.6 0a10.3 10.3 0 1 0 -20.6 0M2344.6 1212.8a10.3 10.3 0 1 0 20.6 0a10.3 10.3 0 1 0 -20.6 0M2388.3 1212.8a10.3 10.3 0 1 0 20.6 0a10.3 10.3 0 1 0 -20.6 0M2431.9 1212.8a10.3 10.3 0 1 0 20.6 0a10.3 10.3 0 1 0 -20.6 0M2475.6 1212.8a10.3 10.3 0 1 0 20.6 0a10.3 10.3 0 1 0 -20.6 0M2519.3 1212.8a10.3 10.3 0 1 0 20.6 0a10.3 10.3 0 1 0 -20.6 0M2562.9 1212.8a10.3 10.3 0 1 0 20.6 0a10.3 10.3 0 1 0 -20.6 0M2606.6 1212.8a10.3 10.3 0 1 0 20.6 0a10.3 10.3 0 1 0 -20.6 0M2650.2 1212.8a10.3 10.3 0 1 0 20.6 0a10.3 10.3 0 1 0 -20.6 0M2737.6 1212.8a10.3 10.3 0 1 0 20.6 0a10.3 10.3 0 1 0 -20.6 0M2868.5 1212.8a10.3 10.3 0 1 0 20.6 0a10.3 10.3 0 1 0 -20.6 0M2955.9 1212.8a10.3 10.3 0 1 0 20.6 0a10.3 10.3 0 1 0 -20.6 0M3043.2 1212.8a10.3 10.3 0 1 0 20.6 0a10.3 10.3 0 1 0 -20.6 0M3130.5 1212.8a10.3 10.3 0 1 0 20.6 0a10.3 10.3 0 1 0 -20.6 0M3305.1 1212.8a10.3 10.3 0 1 0 20.6 0a10.3 10.3 0 1 0 -20.6 0M3392.5 1212.8a10.3 10.3 0 1 0 20.6 0a10.3 10.3 0 1 0 -20.6 0M1699.6 1276.8a10.3 10.3 0 1 0 20.6 0a10.3 10.3 0 1 0 -20.6 0M1801 1276.8a10.3 10.3 0 1 0 20.6 0a10.3 10.3 0 1 0 -20.6 0M1851.6 1276.8a10.3 10.3 0 1 0 20.6 0a10.3 10.3 0 1 0 -20.6 0M1902.3 1276.8a10.3 10.3 0 1 0 20.6 0a10.3 10.3 0 1 0 -20.6 0M1953 1276.8a10.3 10.3 0 1 0 20.6 0a10.3 10.3 0 1 0 -20.6 0M2003.6 1276.8a10.3 10.3 0 1 0 20.6 0a10.3 10.3 0 1 0 -20.6 0M2054.3 1276.8a10.3 10.3 0 1 0 20.6 0a10.3 10.3 0 1 0 -20.6 0M2105 1276.8a10.3 10.3 0 1 0 20.6 0a10.3 10.3 0 1 0 -20.6 0M2155.6 1276.8a10.3 10.3 0 1 0 20.6 0a10.3 10.3 0 1 0 -20.6 0M2206.3 1276.8a10.3 10.3 0 1 0 20.6 0a10.3 10.3 0 1 0 -20.6 0M2257 1276.8a10.3 10.3 0 1 0 20.6 0a10.3 10.3 0 1 0 -20.6 0M2307.6 1276.8a10.3 10.3 0 1 0 20.6 0a10.3 10.3 0 1 0 -20.6 0M2358.3 1276.8a10.3 10.3 0 1 0 20.6 0a10.3 10.3 0 1 0 -20.6 0M2409 1276.8a10.3 10.3 0 1 0 20.6 0a10.3 10.3 0 1 0 -20.6 0M2510.3 1276.8a10.3 10.3 0 1 0 20.6 0a10.3 10.3 0 1 0 -20.6 0M2561 1276.8a10.3 10.3 0 1 0 20.6 0a10.3 10.3 0 1 0 -20.6 0M2611.7 1276.8a10.3 10.3 0 1 0 20.6 0a10.3 10.3 0 1 0 -20.6 0M2662.3 1276.8a10.3 10.3 0 1 0 20.6 0a10.3 10.3 0 1 0 -20.6 0M2713 1276.8a10.3 10.3 0 1 0 20.6 0a10.3 10.3 0 1 0 -20.6 0M2763.7 1276.8a10.3 10.3 0 1 0 20.6 0a10.3 10.3 0 1 0 -20.6 0M2814.3 1276.8a10.3 10.3 0 1 0 20.6 0a10.3 10.3 0 1 0 -20.6 0M2865 1276.8a10.3 10.3 0 1 0 20.6 0a10.3 10.3 0 1 0 -20.6 0M3422.4 1276.8a10.3 10.3 0 1 0 20.6 0a10.3 10.3 0 1 0 -20.6 0M1455.5 1340.8a10.3 10.3 0 1 0 20.6 0a10.3 10.3 0 1 0 -20.6 0M1531.2 1340.8a10.3 10.3 0 1 0 20.6 0a10.3 10.3 0 1 0 -20.6 0M1569 1340.8a10.3 10.3 0 1 0 20.6 0a10.3 10.3 0 1 0 -20.6 0M1644.6 1340.8a10.3 10.3 0 1 0 20.6 0a10.3 10.3 0 1 0 -20.6 0M1682.4 1340.8a10.3 10.3 0 1 0 20.6 0a10.3 10.3 0 1 0 -20.6 0M1720.2 1340.8a10.3 10.3 0 1 0 20.6 0a10.3 10.3 0 1 0 -20.6 0M1758 1340.8a10.3 10.3 0 1 0 20.6 0a10.3 10.3 0 1 0 -20.6 0M1795.8 1340.8a10.3 10.3 0 1 0 20.6 0a10.3 10.3 0 1 0 -20.6 0M1833.6 1340.8a10.3 10.3 0 1 0 20.6 0a10.3 10.3 0 1 0 -20.6 0M1871.5 1340.8a10.3 10.3 0 1 0 20.6 0a10.3 10.3 0 1 0 -20.6 0M1909.3 1340.8a10.3 10.3 0 1 0 20.6 0a10.3 10.3 0 1 0 -20.6 0M1947.1 1340.8a10.3 10.3 0 1 0 20.6 0a10.3 10.3 0 1 0 -20.6 0M1984.9 1340.8a10.3 10.3 0 1 0 20.6 0a10.3 10.3 0 1 0 -20.6 0M2022.7 1340.8a10.3 10.3 0 1 0 20.6 0a10.3 10.3 0 1 0 -20.6 0M2060.5 1340.8a10.3 10.3 0 1 0 20.6 0a10.3 10.3 0 1 0 -20.6 0M2098.3 1340.8a10.3 10.3 0 1 0 20.6 0a10.3 10.3 0 1 0 -20.6 0M2136.1 1340.8a10.3 10.3 0 1 0 20.6 0a10.3 10.3 0 1 0 -20.6 0M2173.9 1340.8a10.3 10.3 0 1 0 20.6 0a10.3 10.3 0 1 0 -20.6 0M2211.7 1340.8a10.3 10.3 0 1 0 20.6 0a10.3 10.3 0 1 0 -20.6 0M2249.6 1340.8a10.3 10.3 0 1 0 20.6 0a10.3 10.3 0 1 0 -20.6 0M2287.4 1340.8a10.3 10.3 0 1 0 20.6 0a10.3 10.3 0 1 0 -20.6 0M2325.2 1340.8a10.3 10.3 0 1 0 20.6 0a10.3 10.3 0 1 0 -20.6 0M2363 1340.8a10.3 10.3 0 1 0 20.6 0a10.3 10.3 0 1 0 -20.6 0M2400.8 1340.8a10.3 10.3 0 1 0 20.6 0a10.3 10.3 0 1 0 -20.6 0M2438.6 1340.8a10.3 10.3 0 1 0 20.6 0a10.3 10.3 0 1 0 -20.6 0M2476.4 1340.8a10.3 10.3 0 1 0 20.6 0a10.3 10.3 0 1 0 -20.6 0M2552 1340.8a10.3 10.3 0 1 0 20.6 0a10.3 10.3 0 1 0 -20.6 0M2589.8 1340.8a10.3 10.3 0 1 0 20.6 0a10.3 10.3 0 1 0 -20.6 0M2627.7 1340.8a10.3 10.3 0 1 0 20.6 0a10.3 10.3 0 1 0 -20.6 0M2665.5 1340.8a10.3 10.3 0 1 0 20.6 0a10.3 10.3 0 1 0 -20.6 0M2703.3 1340.8a10.3 10.3 0 1 0 20.6 0a10.3 10.3 0 1 0 -20.6 0M2741.1 1340.8a10.3 10.3 0 1 0 20.6 0a10.3 10.3 0 1 0 -20.6 0M2778.9 1340.8a10.3 10.3 0 1 0 20.6 0a10.3 10.3 0 1 0 -20.6 0M2816.7 1340.8a10.3 10.3 0 1 0 20.6 0a10.3 10.3 0 1 0 -20.6 0M2967.9 1340.8a10.3 10.3 0 1 0 20.6 0a10.3 10.3 0 1 0 -20.6 0M3005.8 1340.8a10.3 10.3 0 1 0 20.6 0a10.3 10.3 0 1 0 -20.6 0M1672.2 1404.8a10.3 10.3 0 1 0 20.6 0a10.3 10.3 0 1 0 -20.6 0M1672.2 1404.8a10.3 10.3 0 1 0 20.6 0a10.3 10.3 0 1 0 -20.6 0M1672.2 1404.8a10.3 10.3 0 1 0 20.6 0a10.3 10.3 0 1 0 -20.6 0M3289.7 1404.8a10.3 10.3 0 1 0 20.6 0a10.3 10.3 0 1 0 -20.6 0M3289.7 1404.8a10.3 10.3 0 1 0 20.6 0a10.3 10.3 0 1 0 -20.6 0M3289.7 1404.8a10.3 10.3 0 1 0 20.6 0a10.3 10.3 0 1 0 -20.6 0M1408.4 1468.8a10.3 10.3 0 1 0 20.6 0a10.3 10.3 0 1 0 -20.6 0M1531.5 1468.8a10.3 10.3 0 1 0 20.6 0a10.3 10.3 0 1 0 -20.6 0M1654.5 1468.8a10.3 10.3 0 1 0 20.6 0a10.3 10.3 0 1 0 -20.6 0M1777.5 1468.8a10.3 10.3 0 1 0 20.6 0a10.3 10.3 0 1 0 -20.6 0M1900.6 1468.8a10.3 10.3 0 1 0 20.6 0a10.3 10.3 0 1 0 -20.6 0M2023.7 1468.8a10.3 10.3 0 1 0 20.6 0a10.3 10.3 0 1 0 -20.6 0M2146.7 1468.8a10.3 10.3 0 1 0 20.6 0a10.3 10.3 0 1 0 -20.6 0M2269.8 1468.8a10.3 10.3 0 1 0 20.6 0a10.3 10.3 0 1 0 -20.6 0M2515.8 1468.8a10.3 10.3 0 1 0 20.6 0a10.3 10.3 0 1 0 -20.6 0M2638.9 1468.8a10.3 10.3 0 1 0 20.6 0a10.3 10.3 0 1 0 -20.6 0M2761.9 1468.8a10.3 10.3 0 1 0 20.6 0a10.3 10.3 0 1 0 -20.6 0M2885 1468.8a10.3 10.3 0 1 0 20.6 0a10.3 10.3 0 1 0 -20.6 0M3008 1468.8a10.3 10.3 0 1 0 20.6 0a10.3 10.3 0 1 0 -20.6 0M3377.2 1468.8a10.3 10.3 0 1 0 20.6 0a10.3 10.3 0 1 0 -20.6 0M1676.5 1532.7a10.3 10.3 0 1 0 20.6 0a10.3 10.3 0 1 0 -20.6 0M1789.3 1532.7a10.3 10.3 0 1 0 20.6 0a10.3 10.3 0 1 0 -20.6 0M1902.1 1532.7a10.3 10.3 0 1 0 20.6 0a10.3 10.3 0 1 0 -20.6 0M1958.5 1532.7a10.3 10.3 0 1 0 20.6 0a10.3 10.3 0 1 0 -20.6 0M2014.9 1532.7a10.3 10.3 0 1 0 20.6 0a10.3 10.3 0 1 0 -20.6 0M2071.3 1532.7a10.3 10.3 0 1 0 20.6 0a10.3 10.3 0 1 0 -20.6 0M2127.7 1532.7a10.3 10.3 0 1 0 20.6 0a10.3 10.3 0 1 0 -20.6 0M2184.1 1532.7a10.3 10.3 0 1 0 20.6 0a10.3 10.3 0 1 0 -20.6 0M2240.5 1532.7a10.3 10.3 0 1 0 20.6 0a10.3 10.3 0 1 0 -20.6 0M2296.9 1532.7a10.3 10.3 0 1 0 20.6 0a10.3 10.3 0 1 0 -20.6 0M2353.3 1532.7a10.3 10.3 0 1 0 20.6 0a10.3 10.3 0 1 0 -20.6 0M2466.1 1532.7a10.3 10.3 0 1 0 20.6 0a10.3 10.3 0 1 0 -20.6 0M2522.5 1532.7a10.3 10.3 0 1 0 20.6 0a10.3 10.3 0 1 0 -20.6 0M2578.9 1532.7a10.3 10.3 0 1 0 20.6 0a10.3 10.3 0 1 0 -20.6 0M2635.3 1532.7a10.3 10.3 0 1 0 20.6 0a10.3 10.3 0 1 0 -20.6 0M2691.7 1532.7a10.3 10.3 0 1 0 20.6 0a10.3 10.3 0 1 0 -20.6 0M2804.5 1532.7a10.3 10.3 0 1 0 20.6 0a10.3 10.3 0 1 0 -20.6 0M2860.9 1532.7a10.3 10.3 0 1 0 20.6 0a10.3 10.3 0 1 0 -20.6 0M2917.3 1532.7a10.3 10.3 0 1 0 20.6 0a10.3 10.3 0 1 0 -20.6 0M3142.9 1532.7a10.3 10.3 0 1 0 20.6 0a10.3 10.3 0 1 0 -20.6 0M3199.3 1532.7a10.3 10.3 0 1 0 20.6 0a10.3 10.3 0 1 0 -20.6 0M1537.8 1596.7a10.3 10.3 0 1 0 20.6 0a10.3 10.3 0 1 0 -20.6 0M1873 1596.7a10.3 10.3 0 1 0 20.6 0a10.3 10.3 0 1 0 -20.6 0M2208.2 1596.7a10.3 10.3 0 1 0 20.6 0a10.3 10.3 0 1 0 -20.6 0M2878.6 1596.7a10.3 10.3 0 1 0 20.6 0a10.3 10.3 0 1 0 -20.6 0M3213.8 1596.7a10.3 10.3 0 1 0 20.6 0a10.3 10.3 0 1 0 -20.6 0M1435.2 1724.7a10.3 10.3 0 1 0 20.6 0a10.3 10.3 0 1 0 -20.6 0M1603.3 1724.7a10.3 10.3 0 1 0 20.6 0a10.3 10.3 0 1 0 -20.6 0M1771.4 1724.7a10.3 10.3 0 1 0 20.6 0a10.3 10.3 0 1 0 -20.6 0M1939.4 1724.7a10.3 10.3 0 1 0 20.6 0a10.3 10.3 0 1 0 -20.6 0M2107.5 1724.7a10.3 10.3 0 1 0 20.6 0a10.3 10.3 0 1 0 -20.6 0M2275.6 1724.7a10.3 10.3 0 1 0 20.6 0a10.3 10.3 0 1 0 -20.6 0M2611.8 1724.7a10.3 10.3 0 1 0 20.6 0a10.3 10.3 0 1 0 -20.6 0M2779.8 1724.7a10.3 10.3 0 1 0 20.6 0a10.3 10.3 0 1 0 -20.6 0M2947.9 1724.7a10.3 10.3 0 1 0 20.6 0a10.3 10.3 0 1 0 -20.6 0M3116 1724.7a10.3 10.3 0 1 0 20.6 0a10.3 10.3 0 1 0 -20.6 0M3284.1 1724.7a10.3 10.3 0 1 0 20.6 0a10.3 10.3 0 1 0 -20.6 0M3452.2 1724.7a10.3 10.3 0 1 0 20.6 0a10.3 10.3 0 1 0 -20.6 0M1436.3 1852.6a10.3 10.3 0 1 0 20.6 0a10.3 10.3 0 1 0 -20.6 0M1580.4 1852.6a10.3 10.3 0 1 0 20.6 0a10.3 10.3 0 1 0 -20.6 0M1724.5 1852.6a10.3 10.3 0 1 0 20.6 0a10.3 10.3 0 1 0 -20.6 0M1868.6 1852.6a10.3 10.3 0 1 0 20.6 0a10.3 10.3 0 1 0 -20.6 0M2012.7 1852.6a10.3 10.3 0 1 0 20.6 0a10.3 10.3 0 1 0 -20.6 0M2156.8 1852.6a10.3 10.3 0 1 0 20.6 0a10.3 10.3 0 1 0 -20.6 0M2300.9 1852.6a10.3 10.3 0 1 0 20.6 0a10.3 10.3 0 1 0 -20.6 0M2589.1 1852.6a10.3 10.3 0 1 0 20.6 0a10.3 10.3 0 1 0 -20.6 0M2733.2 1852.6a10.3 10.3 0 1 0 20.6 0a10.3 10.3 0 1 0 -20.6 0M2877.3 1852.6a10.3 10.3 0 1 0 20.6 0a10.3 10.3 0 1 0 -20.6 0M3021.4 1852.6a10.3 10.3 0 1 0 20.6 0a10.3 10.3 0 1 0 -20.6 0M3165.5 1852.6a10.3 10.3 0 1 0 20.6 0a10.3 10.3 0 1 0 -20.6 0M3453.7 1852.6a10.3 10.3 0 1 0 20.6 0a10.3 10.3 0 1 0 -20.6 0M1625.2 1916.6a10.3 10.3 0 1 0 20.6 0a10.3 10.3 0 1 0 -20.6 0M1823.4 1916.6a10.3 10.3 0 1 0 20.6 0a10.3 10.3 0 1 0 -20.6 0M2021.6 1916.6a10.3 10.3 0 1 0 20.6 0a10.3 10.3 0 1 0 -20.6 0M2219.8 1916.6a10.3 10.3 0 1 0 20.6 0a10.3 10.3 0 1 0 -20.6 0M2616.2 1916.6a10.3 10.3 0 1 0 20.6 0a10.3 10.3 0 1 0 -20.6 0M2814.4 1916.6a10.3 10.3 0 1 0 20.6 0a10.3 10.3 0 1 0 -20.6 0M3012.6 1916.6a10.3 10.3 0 1 0 20.6 0a10.3 10.3 0 1 0 -20.6 0M3210.8 1916.6a10.3 10.3 0 1 0 20.6 0a10.3 10.3 0 1 0 -20.6 0M3409 1916.6a10.3 10.3 0 1 0 20.6 0a10.3 10.3 0 1 0 -20.6 0M1756.6 1980.6a10.3 10.3 0 1 0 20.6 0a10.3 10.3 0 1 0 -20.6 0M1834.5 1980.6a10.3 10.3 0 1 0 20.6 0a10.3 10.3 0 1 0 -20.6 0M1912.4 1980.6a10.3 10.3 0 1 0 20.6 0a10.3 10.3 0 1 0 -20.6 0M1990.3 1980.6a10.3 10.3 0 1 0 20.6 0a10.3 10.3 0 1 0 -20.6 0M2068.2 1980.6a10.3 10.3 0 1 0 20.6 0a10.3 10.3 0 1 0 -20.6 0M2146.1 1980.6a10.3 10.3 0 1 0 20.6 0a10.3 10.3 0 1 0 -20.6 0M2224 1980.6a10.3 10.3 0 1 0 20.6 0a10.3 10.3 0 1 0 -20.6 0M2301.9 1980.6a10.3 10.3 0 1 0 20.6 0a10.3 10.3 0 1 0 -20.6 0M2379.8 1980.6a10.3 10.3 0 1 0 20.6 0a10.3 10.3 0 1 0 -20.6 0M2535.6 1980.6a10.3 10.3 0 1 0 20.6 0a10.3 10.3 0 1 0 -20.6 0M2613.5 1980.6a10.3 10.3 0 1 0 20.6 0a10.3 10.3 0 1 0 -20.6 0M2691.4 1980.6a10.3 10.3 0 1 0 20.6 0a10.3 10.3 0 1 0 -20.6 0M2769.3 1980.6a10.3 10.3 0 1 0 20.6 0a10.3 10.3 0 1 0 -20.6 0M2847.2 1980.6a10.3 10.3 0 1 0 20.6 0a10.3 10.3 0 1 0 -20.6 0M2925.1 1980.6a10.3 10.3 0 1 0 20.6 0a10.3 10.3 0 1 0 -20.6 0M3003 1980.6a10.3 10.3 0 1 0 20.6 0a10.3 10.3 0 1 0 -20.6 0M3080.9 1980.6a10.3 10.3 0 1 0 20.6 0a10.3 10.3 0 1 0 -20.6 0M3236.7 1980.6a10.3 10.3 0 1 0 20.6 0a10.3 10.3 0 1 0 -20.6 0M3314.6 1980.6a10.3 10.3 0 1 0 20.6 0a10.3 10.3 0 1 0 -20.6 0M3392.5 1980.6a10.3 10.3 0 1 0 20.6 0a10.3 10.3 0 1 0 -20.6 0M1815.2 2044.6a10.3 10.3 0 1 0 20.6 0a10.3 10.3 0 1 0 -20.6 0M3019.4 2044.6a10.3 10.3 0 1 0 20.6 0a10.3 10.3 0 1 0 -20.6 0M1986.2 2108.6a10.3 10.3 0 1 0 20.6 0a10.3 10.3 0 1 0 -20.6 0M2760 2108.6a10.3 10.3 0 1 0 20.6 0a10.3 10.3 0 1 0 -20.6 0M1615.4 2172.5a10.3 10.3 0 1 0 20.6 0a10.3 10.3 0 1 0 -20.6 0M1747.8 2172.5a10.3 10.3 0 1 0 20.6 0a10.3 10.3 0 1 0 -20.6 0M1880.2 2172.5a10.3 10.3 0 1 0 20.6 0a10.3 10.3 0 1 0 -20.6 0M2012.6 2172.5a10.3 10.3 0 1 0 20.6 0a10.3 10.3 0 1 0 -20.6 0M2145 2172.5a10.3 10.3 0 1 0 20.6 0a10.3 10.3 0 1 0 -20.6 0M2277.4 2172.5a10.3 10.3 0 1 0 20.6 0a10.3 10.3 0 1 0 -20.6 0M2542.2 2172.5a10.3 10.3 0 1 0 20.6 0a10.3 10.3 0 1 0 -20.6 0M2674.6 2172.5a10.3 10.3 0 1 0 20.6 0a10.3 10.3 0 1 0 -20.6 0M2807 2172.5a10.3 10.3 0 1 0 20.6 0a10.3 10.3 0 1 0 -20.6 0M2939.4 2172.5a10.3 10.3 0 1 0 20.6 0a10.3 10.3 0 1 0 -20.6 0M3071.8 2172.5a10.3 10.3 0 1 0 20.6 0a10.3 10.3 0 1 0 -20.6 0M3204.2 2172.5a10.3 10.3 0 1 0 20.6 0a10.3 10.3 0 1 0 -20.6 0M1739.2 2236.5a10.3 10.3 0 1 0 20.6 0a10.3 10.3 0 1 0 -20.6 0M2977.1 2236.5a10.3 10.3 0 1 0 20.6 0a10.3 10.3 0 1 0 -20.6 0M1794.6 2300.5a10.3 10.3 0 1 0 20.6 0a10.3 10.3 0 1 0 -20.6 0M1794.6 2300.5a10.3 10.3 0 1 0 20.6 0a10.3 10.3 0 1 0 -20.6 0M3235.4 2300.5a10.3 10.3 0 1 0 20.6 0a10.3 10.3 0 1 0 -20.6 0M3235.4 2300.5a10.3 10.3 0 1 0 20.6 0a10.3 10.3 0 1 0 -20.6 0M1454.2 2364.5a10.3 10.3 0 1 0 20.6 0a10.3 10.3 0 1 0 -20.6 0M1967.2 2364.5a10.3 10.3 0 1 0 20.6 0a10.3 10.3 0 1 0 -20.6 0M2994.3 2364.5a10.3 10.3 0 1 0 20.6 0a10.3 10.3 0 1 0 -20.6 0M1569.3 2428.5a10.3 10.3 0 1 0 20.6 0a10.3 10.3 0 1 0 -20.6 0M1763.4 2428.5a10.3 10.3 0 1 0 20.6 0a10.3 10.3 0 1 0 -20.6 0M1957.5 2428.5a10.3 10.3 0 1 0 20.6 0a10.3 10.3 0 1 0 -20.6 0M2151.6 2428.5a10.3 10.3 0 1 0 20.6 0a10.3 10.3 0 1 0 -20.6 0M2345.7 2428.5a10.3 10.3 0 1 0 20.6 0a10.3 10.3 0 1 0 -20.6 0M2539.8 2428.5a10.3 10.3 0 1 0 20.6 0a10.3 10.3 0 1 0 -20.6 0M2928 2428.5a10.3 10.3 0 1 0 20.6 0a10.3 10.3 0 1 0 -20.6 0M3122.1 2428.5a10.3 10.3 0 1 0 20.6 0a10.3 10.3 0 1 0 -20.6 0M3316.2 2428.5a10.3 10.3 0 1 0 20.6 0a10.3 10.3 0 1 0 -20.6 0M1526.4 2492.4a10.3 10.3 0 1 0 20.6 0a10.3 10.3 0 1 0 -20.6 0M1814.8 2492.4a10.3 10.3 0 1 0 20.6 0a10.3 10.3 0 1 0 -20.6 0M1959 2492.4a10.3 10.3 0 1 0 20.6 0a10.3 10.3 0 1 0 -20.6 0M2103.2 2492.4a10.3 10.3 0 1 0 20.6 0a10.3 10.3 0 1 0 -20.6 0M2247.4 2492.4a10.3 10.3 0 1 0 20.6 0a10.3 10.3 0 1 0 -20.6 0M2535.8 2492.4a10.3 10.3 0 1 0 20.6 0a10.3 10.3 0 1 0 -20.6 0M2680 2492.4a10.3 10.3 0 1 0 20.6 0a10.3 10.3 0 1 0 -20.6 0M2824.2 2492.4a10.3 10.3 0 1 0 20.6 0a10.3 10.3 0 1 0 -20.6 0M2968.4 2492.4a10.3 10.3 0 1 0 20.6 0a10.3 10.3 0 1 0 -20.6 0M3112.6 2492.4a10.3 10.3 0 1 0 20.6 0a10.3 10.3 0 1 0 -20.6 0M3256.8 2492.4a10.3 10.3 0 1 0 20.6 0a10.3 10.3 0 1 0 -20.6 0M3401 2492.4a10.3 10.3 0 1 0 20.6 0a10.3 10.3 0 1 0 -20.6 0M1505.6 2556.4a10.3 10.3 0 1 0 20.6 0a10.3 10.3 0 1 0 -20.6 0M1908.6 2556.4a10.3 10.3 0 1 0 20.6 0a10.3 10.3 0 1 0 -20.6 0M1948.9 2556.4a10.3 10.3 0 1 0 20.6 0a10.3 10.3 0 1 0 -20.6 0M1989.2 2556.4a10.3 10.3 0 1 0 20.6 0a10.3 10.3 0 1 0 -20.6 0M2029.5 2556.4a10.3 10.3 0 1 0 20.6 0a10.3 10.3 0 1 0 -20.6 0M2069.8 2556.4a10.3 10.3 0 1 0 20.6 0a10.3 10.3 0 1 0 -20.6 0M2110.1 2556.4a10.3 10.3 0 1 0 20.6 0a10.3 10.3 0 1 0 -20.6 0M2150.4 2556.4a10.3 10.3 0 1 0 20.6 0a10.3 10.3 0 1 0 -20.6 0M2190.7 2556.4a10.3 10.3 0 1 0 20.6 0a10.3 10.3 0 1 0 -20.6 0M2231 2556.4a10.3 10.3 0 1 0 20.6 0a10.3 10.3 0 1 0 -20.6 0M2271.3 2556.4a10.3 10.3 0 1 0 20.6 0a10.3 10.3 0 1 0 -20.6 0M2311.6 2556.4a10.3 10.3 0 1 0 20.6 0a10.3 10.3 0 1 0 -20.6 0M2351.9 2556.4a10.3 10.3 0 1 0 20.6 0a10.3 10.3 0 1 0 -20.6 0M2392.2 2556.4a10.3 10.3 0 1 0 20.6 0a10.3 10.3 0 1 0 -20.6 0M2472.8 2556.4a10.3 10.3 0 1 0 20.6 0a10.3 10.3 0 1 0 -20.6 0M2513.1 2556.4a10.3 10.3 0 1 0 20.6 0a10.3 10.3 0 1 0 -20.6 0M2553.4 2556.4a10.3 10.3 0 1 0 20.6 0a10.3 10.3 0 1 0 -20.6 0M2593.7 2556.4a10.3 10.3 0 1 0 20.6 0a10.3 10.3 0 1 0 -20.6 0M2634 2556.4a10.3 10.3 0 1 0 20.6 0a10.3 10.3 0 1 0 -20.6 0M2674.3 2556.4a10.3 10.3 0 1 0 20.6 0a10.3 10.3 0 1 0 -20.6 0M2714.6 2556.4a10.3 10.3 0 1 0 20.6 0a10.3 10.3 0 1 0 -20.6 0M2754.9 2556.4a10.3 10.3 0 1 0 20.6 0a10.3 10.3 0 1 0 -20.6 0M2795.2 2556.4a10.3 10.3 0 1 0 20.6 0a10.3 10.3 0 1 0 -20.6 0M2835.5 2556.4a10.3 10.3 0 1 0 20.6 0a10.3 10.3 0 1 0 -20.6 0M2875.8 2556.4a10.3 10.3 0 1 0 20.6 0a10.3 10.3 0 1 0 -20.6 0M2956.4 2556.4a10.3 10.3 0 1 0 20.6 0a10.3 10.3 0 1 0 -20.6 0M3037 2556.4a10.3 10.3 0 1 0 20.6 0a10.3 10.3 0 1 0 -20.6 0M3157.9 2556.4a10.3 10.3 0 1 0 20.6 0a10.3 10.3 0 1 0 -20.6 0M3238.5 2556.4a10.3 10.3 0 1 0 20.6 0a10.3 10.3 0 1 0 -20.6 0M3278.8 2556.4a10.3 10.3 0 1 0 20.6 0a10.3 10.3 0 1 0 -20.6 0M3440 2556.4a10.3 10.3 0 1 0 20.6 0a10.3 10.3 0 1 0 -20.6 0M1550.3 2620.4a10.3 10.3 0 1 0 20.6 0a10.3 10.3 0 1 0 -20.6 0M1755.3 2620.4a10.3 10.3 0 1 0 20.6 0a10.3 10.3 0 1 0 -20.6 0M1960.3 2620.4a10.3 10.3 0 1 0 20.6 0a10.3 10.3 0 1 0 -20.6 0M2165.3 2620.4a10.3 10.3 0 1 0 20.6 0a10.3 10.3 0 1 0 -20.6 0M2575.3 2620.4a10.3 10.3 0 1 0 20.6 0a10.3 10.3 0 1 0 -20.6 0M2780.3 2620.4a10.3 10.3 0 1 0 20.6 0a10.3 10.3 0 1 0 -20.6 0M2985.3 2620.4a10.3 10.3 0 1 0 20.6 0a10.3 10.3 0 1 0 -20.6 0M3190.3 2620.4a10.3 10.3 0 1 0 20.6 0a10.3 10.3 0 1 0 -20.6 0M3395.3 2620.4a10.3 10.3 0 1 0 20.6 0a10.3 10.3 0 1 0 -20.6 0" stroke="#999999" stroke-width="3.4" fill="none"/>
<circle cx="2457.1" cy="61.2" r="16.8" fill="#dd3300"/>
<circle cx="2465.3" cy="125.2" r="16.8" fill="#dd3300"/>
<circle cx="2434.7" cy="189.2" r="16.8" fill="#dd3300"/>
<circle cx="2478.8" cy="253.1" r="16.8" fill="#dd3300"/>
<circle cx="2390.5" cy="317.1" r="16.8" fill="#dd3300"/>
<circle cx="2445.7" cy="381.1" r="16.8" fill="#dd3300"/>
<circle cx="2558.1" cy="445.1" r="16.8" fill="#dd3300"/>
<circle cx="2752" cy="509.1" r="16.8" fill="#dd3300"/>
<circle cx="2399.3" cy="573" r="16.8" fill="#dd3300"/>
<circle cx="2732" cy="637" r="16.8" fill="#dd3300"/>
<circle cx="2678.1" cy="701" r="16.8" fill="#dd3300"/>
<circle cx="2652.4" cy="765" r="16.8" fill="#dd3300"/>
<circle cx="2422.5" cy="829" r="16.8" fill="#dd3300"/>
<circle cx="2540.5" cy="892.9" r="16.8" fill="#dd3300"/>
<circle cx="2500.7" cy="956.9" r="16.8" fill="#dd3300"/>
<circle cx="2427.3" cy="1020.9" r="16.8" fill="#dd3300"/>
<circle cx="2602.1" cy="1084.9" r="16.8" fill="#dd3300"/>
<circle cx="2582.9" cy="1148.9" r="16.8" fill="#dd3300"/>
<circle cx="2704.1" cy="1212.8" r="16.8" fill="#dd3300"/>
<circle cx="2469.6" cy="1276.8" r="16.8" fill="#dd3300"/>
<circle cx="2525" cy="1340.8" r="16.8" fill="#dd3300"/>
<circle cx="2491.3" cy="1404.8" r="16.8" fill="#dd3300"/>
<circle cx="2403" cy="1468.8" r="16.8" fill="#dd3300"/>
<circle cx="2420" cy="1532.7" r="16.8" fill="#dd3300"/>
<circle cx="2553.7" cy="1596.7" r="16.8" fill="#dd3300"/>
<circle cx="2474.9" cy="1660.7" r="16.8" fill="#dd3300"/>
<circle cx="2453.1" cy="1724.7" r="16.8" fill="#dd3300"/>
<circle cx="2425.7" cy="1788.7" r="16.8" fill="#dd3300"/>
<circle cx="2456" cy="1852.6" r="16.8" fill="#dd3300"/>
<circle cx="2428.6" cy="1916.6" r="16.8" fill="#dd3300"/>
<circle cx="2468.6" cy="1980.6" r="16.8" fill="#dd3300"/>
<circle cx="2427.4" cy="2044.6" r="16.8" fill="#dd3300"/>
<circle cx="2383" cy="2108.6" r="16.8" fill="#dd3300"/>
<circle cx="2420" cy="2172.5" r="16.8" fill="#dd3300"/>
<circle cx="2368.4" cy="2236.5" r="16.8" fill="#dd3300"/>
<circle cx="2525.7" cy="2300.5" r="16.8" fill="#dd3300"/>
<circle cx="2491.4" cy="2364.5" r="16.8" fill="#dd3300"/>
<circle cx="2744.6" cy="2428.5" r="16.8" fill="#dd3300"/>
<circle cx="2401.7" cy="2492.4" r="16.8" fill="#dd3300"/>
<circle cx="2442.5" cy="2556.4" r="16.8" fill="#dd3300"/>
<circle cx="2380.3" cy="2620.4" r="16.8" fill="#dd3300"/>
<path d="M1922 2659V25M2956.4 2659V25" stroke="#7f7f7f" stroke-width="5.6" stroke-dasharray="21.1 21.6" stroke-dashoffset="1.2" fill="none"/>
<path d="M2439.2 2657V25" stroke="#7f7f7f" stroke-width="3.6" fill="none"/>
<rect x="1302.5" y="24" width="2273.5" height="2633.8" fill="none" stroke="#000" stroke-width="2.2"/>
<path d="M1290 61.2H1301.5M1290 125.2H1301.5M1290 189.2H1301.5M1290 253.1H1301.5M1290 317.1H1301.5M1290 381.1H1301.5M1290 445.1H1301.5M1290 509.1H1301.5M1290 573H1301.5M1290 637H1301.5M1290 701H1301.5M1290 765H1301.5M1290 829H1301.5M1290 892.9H1301.5M1290 956.9H1301.5M1290 1020.9H1301.5M1290 1084.9H1301.5M1290 1148.9H1301.5M1290 1212.8H1301.5M1290 1276.8H1301.5M1290 1340.8H1301.5M1290 1404.8H1301.5M1290 1468.8H1301.5M1290 1532.7H1301.5M1290 1596.7H1301.5M1290 1660.7H1301.5M1290 1724.7H1301.5M1290 1788.7H1301.5M1290 1852.6H1301.5M1290 1916.6H1301.5M1290 1980.6H1301.5M1290 2044.6H1301.5M1290 2108.6H1301.5M1290 2172.5H1301.5M1290 2236.5H1301.5M1290 2300.5H1301.5M1290 2364.5H1301.5M1290 2428.5H1301.5M1290 2492.4H1301.5M1290 2556.4H1301.5M1290 2620.4H1301.5M1404.8 2658.8V2670M1663.4 2658.8V2670M1922 2658.8V2670M2180.6 2658.8V2670M2439.2 2658.8V2670M2697.8 2658.8V2670M2956.4 2658.8V2670M3215 2658.8V2670M3473.6 2658.8V2670" stroke="#333333" stroke-width="4.2" fill="none"/>
<text x="1281.1" y="0" transform="translate(0 76) scale(1 1.05)" text-anchor="end" font-size="57.8" fill="#b5828d">1.0 Global and overview maps</text>
<text x="1281.1" y="0" transform="translate(0 140) scale(1 1.05)" text-anchor="end" font-size="57.8" fill="#b5828d">1.1 Carbohydrate metabolism</text>
<text x="1281.1" y="0" transform="translate(0 204) scale(1 1.05)" text-anchor="end" font-size="57.8" fill="#b5828d">1.2 Energy metabolism</text>
<text x="1281.1" y="0" transform="translate(0 267.9) scale(1 1.05)" text-anchor="end" font-size="57.8" fill="#b5828d">1.3 Lipid metabolism</text>
<text x="1281.1" y="0" transform="translate(0 331.9) scale(1 1.05)" text-anchor="end" font-size="57.8" fill="#b5828d">1.4 Nucleotide metabolism</text>
<text x="1281.1" y="0" transform="translate(0 395.9) scale(1 1.05)" text-anchor="end" font-size="57.8" fill="#b5828d">1.5 Amino acid metabolism</text>
<text x="1281.1" y="0" transform="translate(0 459.9) scale(1 1.05)" text-anchor="end" font-size="57.8" fill="#b5828d">1.6 Metabolism of other amino acids</text>
<text x="1281.1" y="0" transform="translate(0 523.9) scale(1 1.05)" text-anchor="end" font-size="57.8" fill="#b5828d">1.7 Glycan biosynthesis and metabolism</text>
<text x="1281.1" y="0" transform="translate(0 587.8) scale(1 1.05)" text-anchor="end" font-size="57.8" fill="#b5828d">1.8 Metabolism of cofactors and vitamins</text>
<text x="1281.1" y="0" transform="translate(0 651.8) scale(1 1.05)" text-anchor="end" font-size="57.8" fill="#b5828d">1.9 Metabolism of terpenoids and polyketides</text>
<text x="1281.1" y="0" transform="translate(0 715.8) scale(1 1.05)" text-anchor="end" font-size="57.8" fill="#b5828d">1.10 Biosynthesis of other secondary metabolites</text>
<text x="1281.1" y="0" transform="translate(0 779.8) scale(1 1.05)" text-anchor="end" font-size="57.8" fill="#b5828d">1.11 Xenobiotics biodegradation and metabolism</text>
<text x="1281.1" y="0" transform="translate(0 843.8) scale(1 1.05)" text-anchor="end" font-size="57.8" fill="#247ba0">2.1 Transcription</text>
<text x="1281.1" y="0" transform="translate(0 907.7) scale(1 1.05)" text-anchor="end" font-size="57.8" fill="#247ba0">2.2 Translation</text>
<text x="1281.1" y="0" transform="translate(0 971.7) scale(1 1.05)" text-anchor="end" font-size="57.8" fill="#247ba0">2.3 Folding, sorting and degradation</text>
<text x="1281.1" y="0" transform="translate(0 1035.7) scale(1 1.05)" text-anchor="end" font-size="57.8" fill="#247ba0">2.4 Replication and repair</text>
<text x="1281.1" y="0" transform="translate(0 1099.7) scale(1 1.05)" text-anchor="end" font-size="57.8" fill="#f0712e">3.1 Membrane transport</text>
<text x="1281.1" y="0" transform="translate(0 1163.7) scale(1 1.05)" text-anchor="end" font-size="57.8" fill="#f0712e">3.2 Signal transduction</text>
<text x="1281.1" y="0" transform="translate(0 1227.6) scale(1 1.05)" text-anchor="end" font-size="57.8" fill="#4fa7dc">4.1 Transport and catabolism</text>
<text x="1281.1" y="0" transform="translate(0 1291.6) scale(1 1.05)" text-anchor="end" font-size="57.8" fill="#4fa7dc">4.2 Cell growth and death</text>
<text x="1281.1" y="0" transform="translate(0 1355.6) scale(1 1.05)" text-anchor="end" font-size="57.8" fill="#4fa7dc">4.4 Cellular community - prokaryotes</text>
<text x="1281.1" y="0" transform="translate(0 1419.6) scale(1 1.05)" text-anchor="end" font-size="57.8" fill="#4fa7dc">4.5 Cell motility</text>
<text x="1281.1" y="0" transform="translate(0 1483.6) scale(1 1.05)" text-anchor="end" font-size="57.8" fill="#f5951f">5.1 Immune system</text>
<text x="1281.1" y="0" transform="translate(0 1547.5) scale(1 1.05)" text-anchor="end" font-size="57.8" fill="#f5951f">5.2 Endocrine system</text>
<text x="1281.1" y="0" transform="translate(0 1611.5) scale(1 1.05)" text-anchor="end" font-size="57.8" fill="#f5951f">5.4 Digestive system</text>
<text x="1281.1" y="0" transform="translate(0 1675.5) scale(1 1.05)" text-anchor="end" font-size="57.8" fill="#f5951f">5.5 Excretory system</text>
<text x="1281.1" y="0" transform="translate(0 1739.5) scale(1 1.05)" text-anchor="end" font-size="57.8" fill="#f5951f">5.6 Nervous system</text>
<text x="1281.1" y="0" transform="translate(0 1803.5) scale(1 1.05)" text-anchor="end" font-size="57.8" fill="#f5951f">5.8 Development and regeneration</text>
<text x="1281.1" y="0" transform="translate(0 1867.4) scale(1 1.05)" text-anchor="end" font-size="57.8" fill="#f5951f">5.9 Aging</text>
<text x="1281.1" y="0" transform="translate(0 1931.4) scale(1 1.05)" text-anchor="end" font-size="57.8" fill="#f5951f">5.10 Environmental adaptation</text>
<text x="1281.1" y="0" transform="translate(0 1995.4) scale(1 1.05)" text-anchor="end" font-size="57.8" fill="#8dbd6d">6.1 Cancer: overview</text>
<text x="1281.1" y="0" transform="translate(0 2059.4) scale(1 1.05)" text-anchor="end" font-size="57.8" fill="#8dbd6d">6.2 Cancer: specific types</text>
<text x="1281.1" y="0" transform="translate(0 2123.4) scale(1 1.05)" text-anchor="end" font-size="57.8" fill="#8dbd6d">6.3 Infectious disease: viral</text>
<text x="1281.1" y="0" transform="translate(0 2187.3) scale(1 1.05)" text-anchor="end" font-size="57.8" fill="#8dbd6d">6.4 Infectious disease: bacterial</text>
<text x="1281.1" y="0" transform="translate(0 2251.3) scale(1 1.05)" text-anchor="end" font-size="57.8" fill="#8dbd6d">6.5 Infectious disease: parasitic</text>
<text x="1281.1" y="0" transform="translate(0 2315.3) scale(1 1.05)" text-anchor="end" font-size="57.8" fill="#8dbd6d">6.6 Immune disease</text>
<text x="1281.1" y="0" transform="translate(0 2379.3) scale(1 1.05)" text-anchor="end" font-size="57.8" fill="#8dbd6d">6.7 Neurodegenerative disease</text>
<text x="1281.1" y="0" transform="translate(0 2443.3) scale(1 1.05)" text-anchor="end" font-size="57.8" fill="#8dbd6d">6.9 Cardiovascular disease</text>
<text x="1281.1" y="0" transform="translate(0 2507.2) scale(1 1.05)" text-anchor="end" font-size="57.8" fill="#8dbd6d">6.10 Endocrine and metabolic disease</text>
<text x="1281.1" y="0" transform="translate(0 2571.2) scale(1 1.05)" text-anchor="end" font-size="57.8" fill="#8dbd6d">6.11 Drug resistance: antimicrobial</text>
<text x="1281.1" y="0" transform="translate(0 2635.2) scale(1 1.05)" text-anchor="end" font-size="57.8" fill="#8dbd6d">6.12 Drug resistance: antineoplastic</text>
<text x="1404.8" y="0" transform="translate(0 2722) scale(1 1.05)" text-anchor="middle" font-size="57.8" fill="#4d4d4d">-4</text>
<text x="1663.4" y="0" transform="translate(0 2722) scale(1 1.05)" text-anchor="middle" font-size="57.8" fill="#4d4d4d">-3</text>
<text x="1922" y="0" transform="translate(0 2722) scale(1 1.05)" text-anchor="middle" font-size="57.8" fill="#4d4d4d">-2</text>
<text x="2180.6" y="0" transform="translate(0 2722) scale(1 1.05)" text-anchor="middle" font-size="57.8" fill="#4d4d4d">-1</text>
<text x="2439.2" y="0" transform="translate(0 2722) scale(1 1.05)" text-anchor="middle" font-size="57.8" fill="#4d4d4d">0</text>
<text x="2697.8" y="0" transform="translate(0 2722) scale(1 1.05)" text-anchor="middle" font-size="57.8" fill="#4d4d4d">1</text>
<text x="2956.4" y="0" transform="translate(0 2722) scale(1 1.05)" text-anchor="middle" font-size="57.8" fill="#4d4d4d">2</text>
<text x="3215" y="0" transform="translate(0 2722) scale(1 1.05)" text-anchor="middle" font-size="57.8" fill="#4d4d4d">3</text>
<text x="3473.6" y="0" transform="translate(0 2722) scale(1 1.05)" text-anchor="middle" font-size="57.8" fill="#4d4d4d">4</text>
<text x="2439.2" y="0" transform="translate(0 2799) scale(1 1.05)" text-anchor="middle" font-size="71" font-weight="bold" fill="#000">Z-score</text>
<circle cx="2136.5" cy="2918.4" r="10.5" fill="none" stroke="#999999" stroke-width="2.6"/>
<text x="2195.4" y="0" transform="translate(0 2940.4) scale(1 1.05)" font-size="57.8" fill="#000">Background</text>
<circle cx="2562.1" cy="2918.3" r="16.35" fill="#dd3300"/>
<text x="2620.8" y="0" transform="translate(0 2940.4) scale(1 1.05)" font-size="57.8" fill="#000">Query</text>
</svg></body></html>
